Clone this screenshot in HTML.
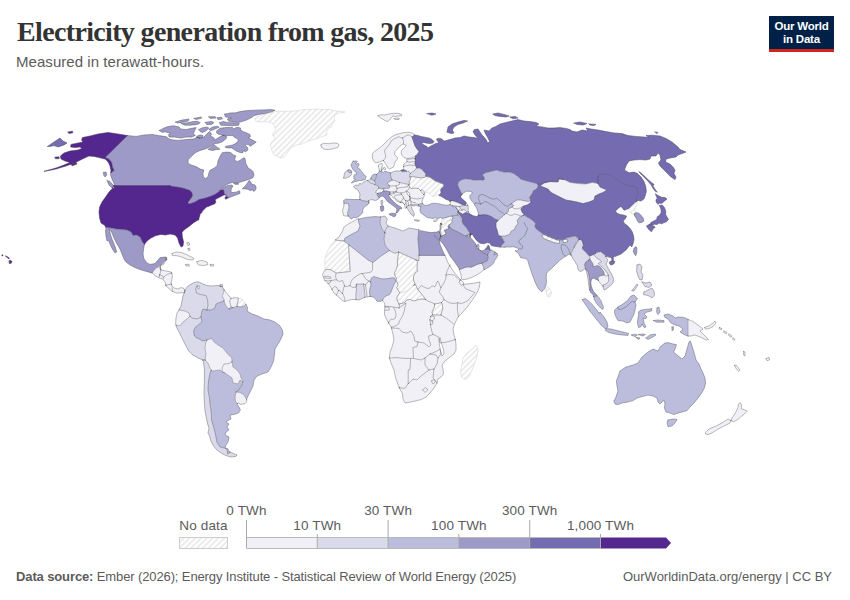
<!DOCTYPE html>
<html><head><meta charset="utf-8">
<style>
html,body{margin:0;padding:0;background:#fff;}
body{width:850px;height:600px;overflow:hidden;position:relative;font-family:"Liberation Sans",sans-serif;}
#title{position:absolute;left:17px;top:15.5px;font-family:"Liberation Serif",serif;font-weight:bold;font-size:28px;line-height:32px;color:#333;white-space:nowrap;letter-spacing:-0.65px;}
#sub{position:absolute;left:16px;top:53px;font-size:15px;letter-spacing:0.05px;line-height:18px;color:#5b5b5b;white-space:nowrap;}
#logo{position:absolute;left:769px;top:16px;width:65px;height:33px;background:#002147;border-bottom:3px solid #ce261e;color:#fff;text-align:center;font-weight:bold;font-size:11.5px;line-height:11.5px;letter-spacing:-0.22px;}
#logo span{display:block;}
#src{position:absolute;left:16px;top:569px;font-size:13px;letter-spacing:-0.12px;line-height:16px;color:#5b5b5b;white-space:nowrap;}
#lic{position:absolute;right:18px;top:569px;font-size:13px;line-height:16px;color:#5b5b5b;white-space:nowrap;}
svg{position:absolute;left:0;top:0;}
.lg{font-family:"Liberation Sans",sans-serif;font-size:13.5px;letter-spacing:0.15px;fill:#5b5b5b;text-anchor:middle;}
</style></head>
<body>
<div id="title">Electricity generation from gas, 2025</div>
<div id="sub">Measured in terawatt-hours.</div>
<div id="logo"><span style="margin-top:5px">Our World</span><span style="margin-top:1px">in Data</span></div>
<svg width="850" height="600" viewBox="0 0 850 600">
<defs>
<pattern id="hatch" patternUnits="userSpaceOnUse" width="4.1" height="4.1" patternTransform="rotate(45)"><rect width="4.1" height="4.1" fill="#fff"/><line x1="2" y1="-1" x2="2" y2="6" stroke="#e5e5e5" stroke-width="1.45"/></pattern>
</defs>
<!--MAP-->
<g stroke-linejoin="round" stroke-linecap="round" fill-rule="evenodd">
<path fill="#9e9ac8" stroke="#9e9ac8" stroke-width="0.25" d="M232,196.5L236.5,194.8L240,193.5L239.5,190.8L236,192.2L232.5,192.5L230.7,191.2L231.5,188.5L233,186L231.5,185L228,185.5L224.5,187L221.5,189L219.5,190.5L218.8,190.3L220,189.2L223,187L226,185L229,183.5L232,182.5L235,182.5L239,182.5L243,181.2L247,180L250,179L253,177.5L254,175L253,171.5L250,169L248.3,168.3L245.8,163.3L245,158.3L243.3,157.9L240,160.4L236.7,161.7L234.6,159.2L235.8,155.8L233.3,155L230.8,152.5L226.7,152.1L222.3,152.7L220.2,156L218,160.9L217.3,165.2L214.5,168L210.3,170.1L209.1,172.3L208.1,176.5L205.7,178.6L203.5,177.2L202.9,173.7L203.9,170.1L200.3,169.1L196.1,166.6L189.7,164.5L187.9,162.3L188.3,159.5L191.8,156L195,152.9L200,150.4L205.8,148.8L210,146.7L212.9,145L215,143.5L218.3,143.2L221.7,142.1L224.2,140.4L226.7,137.9L226.2,136.2L223.3,135.4L220,136.7L216.7,138.8L214,140.4L214.3,138.5L212.9,137.1L210.2,136.2L211.7,134.6L210.4,132.5L209.5,131.5L206.7,134L203.9,137.1L200.3,138.3L197.5,137.3L193.3,139.1L186,139.6L178,140.4L170,139.6L166,136.6L158,135.6L152,134.4L144,135L136,136.4L127.4,135.6L105,157.6L109,159.2L111.6,162.4L112.4,167L114,170.4L110.8,172.6L111,170.4L110.6,175L112.4,180L115,185.4L113.6,185.6L170,185.6L172,186.4L178,187.2L184,188.4L188,190L189,190L191.5,192L192.5,195L191.5,197.5L189.5,200L187.8,202.5L188.5,204L191,203.5L194,202.5L197,201L199,199.5L203,198.8L206.5,197.8L210.5,196.5L215,194.5L218.5,192L221,190L223.5,190L224.2,193.5L225.5,195L224.8,194.7L227,195.5L226.5,196.1L228.2,197.9L228,198ZM167,259L166.4,257.8L165.6,260L166.3,260Z"/>
<path fill="#54278f" stroke="#54278f" stroke-width="0.25" d="M114,170.4L112.4,167L111.6,162.4L109,159.2L105,157.6L127.4,135.6L118,134L108,132.4L98,134L90,136L82.4,137.6L81.6,140L83,142L78,143L71,144.4L70.6,147L75,147.6L80,147L82,148.4L78,150L70,151L64,153L60.4,156L61,159L65,161L70,162.4L64,165L56,168L44,171.4L56,169L66,166L75.6,162.4L82.4,159L89,156L94,156.4L99,157.6L105.6,159.2L108.4,162.4L110,166L111,170.4L110.8,172.6Z"/>
<path fill="#54278f" stroke="#54278f" stroke-width="0.25" d="M223.5,190L221,190L218.5,192L215,194.5L210.5,196.5L206.5,197.8L203,198.8L199,199.5L197,201L194,202.5L191,203.5L188.5,204L187.8,202.5L189.5,200L191.5,197.5L192.5,195L191.5,192L189,190L188,190L184,188.4L178,187.2L172,186.4L170,185.6L113.6,185.6L112.4,188.4L109,192L105.6,197L102,202L99.6,207L99,212L99.6,218L101,223L105,225.6L105.5,226.9L107,227.6L111,228L116,229L122,229.6L127,230L131,232L133,235.6L136.4,235L140,237L142.4,242L144.4,244.4L147,241L151,238L156,235.6L161,234.4L165.6,235L170,234L175,235L177.6,238L179,243L181,247L183,246L183.6,242L182.4,237L182,232.4L184,230L189,226.4L194,222.4L198,220L198.8,220L199,218L199.8,216L200,214L201.5,213L202.5,211L204.5,209L206.5,207L209,206.2L211.5,205L214.5,204L216,202L215,200L217,198.5L220,197L223.5,195.2L224.8,194.7L225.5,195L224.2,193.5ZM225,197.8L225.5,199.2L228,198L228.2,197.9L226.5,196.1Z"/>
<path fill="#9e9ac8" stroke="#9e9ac8" stroke-width="0.25" d="M106,228L105.6,231L106,236L107,241L108.4,240L110,244L112.4,249L115,253L116.6,252L115.6,248L113.6,243L111.6,238L110,233L109.4,229.2L110.4,230L112,233L114,238L117,244L120,249L122,254L124,259L126,262L130,265L135,267.6L140,269.6L145,271L150,272.4L152.1,273L152.4,272.4L154,270.4L156,268L158.4,267L160,265.4L162.4,264L165.6,260L166.4,257.8L166,257L160,257.6L158,260L155,263.6L150,264.4L147,263L144,259L143,254L143.6,249L144.4,244.4L142.4,242L140,237L136.4,235L133,235.6L131,232L127,230L122,229.6L116,229L111,228L107,227.6L105.5,226.9Z"/>
<path fill="#f2f0f7" stroke="#f2f0f7" stroke-width="0.25" d="M153,273.2L155,275.8L159,277.8L163,279.2L165,282.2L166,285.8L169,288.6L172,291.2L175,292.6L178,293.2L181,292.6L183,292.8L184.4,292.6L185,291L184,288.4L181,287.6L178,289L174.4,288L172,286.4L171,283L172,279L172.4,275L171,272L166,271L161,270L160,268L161,265L163,265L165,262L166.3,260L165.6,260L162.4,264L160,265.4L158.4,267L156,268L154,270.4L152.4,272.4L152.1,273Z"/>
<path fill="#dadaeb" stroke="#dadaeb" stroke-width="0.25" d="M222,286.4L217,285.4L212,286L207,285.6L202,283.6L199.6,282.4L198,281.6L193,283L188,286L185,290L184.4,292.4L183,296L182,301L181,306L179,310L185,311L189,313L190,316L187,319L183,322L181,325L178,326L176,325L176.4,327L179,332L182,338L185,344L188,350L192,354.4L198,358L203,360L204,366L204.4,370L204.4,382L204,392L204.4,402L205,411L206.4,418L207.6,424L209,428L208,433L209.6,436L211,441L213.6,446L217,450L221,453L226,455.6L231,457L236,456.4L237,455L232,453L230.1,452.1L230,452.4L227.6,454L227,449L224,448L220,447L217,442.4L215.6,435L213.6,427L211.6,420L211.2,412L210,404L209.2,396L208,390L208.4,382L209.6,375L211,370L212.4,371L211.6,370.5L210,368L208,363L205,360L206,354L205,348L205.6,343L207,340L202,341L201,339.6L197,338L194.4,336L193.6,331L195.6,327L199,324.4L202,322L201,317L201.6,312L203,309L207,310L211,310L215,308L216,304L220,302.4L224,301L224,299L222,296L223.6,293L224,289.6ZM229,309L233,307.6L231,307Z"/>
<path fill="#bcbddc" stroke="#bcbddc" stroke-width="0.25" d="M244,306L241,307L237,306.4L233,307.6L229,309L227,307L225,304L224,301L220,302.4L216,304L215,308L211,310L207,310L203,309L201.6,312L201,317L202,322L199,324.4L195.6,327L193.6,331L194.4,336L197,338L201,339.6L202,341L207,340L211.6,338.4L214,342L218,345L223,348L226,352L229,355.6L231.6,357L232,362L233,367L237,370L240,374L241,378L243,381L242.4,384L240,388L237.6,391L236,392L240,392.4L244,395L246.6,399.3L247,398L250,392L253,386L254,380L257,376L262,374L268,372L271,367L273.6,361L274.4,355L275,349L278,344L281,339L283,334L282.4,330L279.6,325.6L275,322L270,320L264,319L258,316L252,314L247,311L247.6,308L246,304Z"/>
<path fill="#bcbddc" stroke="#bcbddc" stroke-width="0.25" d="M235,397L236,392L237.6,391L240,388L242.4,384L242.8,381.9L240,380L238,384L233,383L232,378L226,373.6L222.4,372L220,370L212.4,371L211,370L209.6,375L208.4,382L208,390L209.2,396L210,404L211.2,412L211.6,420L213.6,427L215.6,435L217,442.4L220,447L224,448L227,449L227.6,454L230,452.4L230.1,452.1L229,451.6L228,449L225,447.6L226,445L228,442L229,437L225,435L226,432L229,430L227,427L229,424L226,422L228,420.4L231,419L230,415L234,414.4L238.4,413L240.4,410L239,407L237,404L237.5,403.5L235.6,402Z"/>
<path fill="#f2f0f7" stroke="#f2f0f7" stroke-width="0.25" d="M229,363.6L224,364L222,368L222.4,371.6L224.2,372.8L226,373.6L232,378L233,383L238,384L240,380L242.8,381.9L242.4,384L243,381L241,378L240,374L237,370L233,367L232,362L232,361.6Z"/>
<path fill="#f2f0f7" stroke="#f2f0f7" stroke-width="0.25" d="M205,348L206,354L205,360L208,363L210,368L211.6,370.5L212.4,371L220,370L222.4,372L226,373.6L224.2,372.8L222.4,371.6L222,368L224,364L229,363.6L232,361.6L232,362L231.6,357L229,355.6L226,352L223,348L218,345L214,342L211.6,338.4L207,340L205.6,343Z"/>
<path fill="#f2f0f7" stroke="#f2f0f7" stroke-width="0.25" d="M238,403L241,404.4L245,403.6L247,401L246.4,400L247,398L246.6,399.3L244,395L240,392.4L236,392L235,397L235.6,402L237.5,403.5Z"/>
<path fill="#f2f0f7" stroke="#f2f0f7" stroke-width="0.25" d="M181,325L183,322L187,319L190,316L189,313L185,311L179,310L177,313L176,318L175.6,323L176,325L178,326Z"/>
<path fill="#f2f0f7" stroke="#f2f0f7" stroke-width="0.25" d="M222,296L224,299L224,301L225,304L227,307L229,309L231,307L230.4,304L229.6,301L231,298.4L229,296L226,292.4L224,289.6L223.6,293Z"/>
<path fill="#f2f0f7" stroke="#f2f0f7" stroke-width="0.25" d="M230.4,304L231,307L233,307.6L237,306.4L237,305L238,301L238.4,298L235,297.6L231,298.4L229.6,301Z"/>
<path fill="url(#hatch)" stroke="#cfcfcf" stroke-width="0.5" d="M237,305L237,306.4L241,307L244,306L246,304L244,301.6L242,299L238.4,298L238,301Z"/>
<path fill="#f2f0f7" stroke="#f2f0f7" stroke-width="0.25" d="M357,219L354,221L348,224L344,227L342,232L339,237L335,240L344,241L345,238L352,234L358,231L360,226L358.6,222L358.4,219ZM384.5,303L385,307L384.5,311L384.6,315L387,320L390,325L391.4,328L393,334L394,340L392,347L390,352L389.4,358L391,363L394,370L395.4,377L397.4,383L400,389L402.6,394L403,399L405,403L409,402.4L415,401L421,399.6L426,397L430,393L434,388L437,383L438,379L441,377L443.4,374L443,369L442,365L445,361L450,357L454,354L456,350L456,345L455.4,340L454,335L453,329L455,323L458,317L463,312L468,306L473,299L477,293L479.4,287L480,282L475,283L467,284L463,284.6L464,283L460.8,279.9L459.4,278.5L455.3,273.8L451.2,267.9L447.6,262.1L445.3,256.2L444.9,255.4L419,255.4L419,260.6L416,260L417.4,261L417,269L417.8,271L415.5,272.5L413.5,276L413.5,280L415,283.5L413.5,286L415,284L416.5,286.5L418,290L420,292L422,294.5L424,297L425.5,299.5L421,299L417,300L414,301L410,299.5L406.5,300L405,302.5L401.5,303.5L399,304L397.5,301L396.8,298L398,295L400,293L399,291.5L396.5,287.5L398,286L397.5,283L396,280L396.5,278L395,276L394.5,272.5L396.5,269L397.5,265L397.4,261L398.6,252L395,253.4L389.4,250.6L381,256L373,262.6L368,260L358,252L349,245L348.6,247L349.4,259L350.2,271.5L336,273L333,271L330,269.5L327,269.3L325,270.2L324.6,270.6L323.5,272.5L322.5,274.5L324,279L325,280.5L328,283.5L330,286L332,289.5L334,293L336.5,295L340.5,299L343.5,301.2L345,301.5L348,300.5L352,299.5L355.5,299.5L355.9,299.6L355.8,294L356.5,290L356.2,287L356.5,284.2L363.5,284L364,287L364.5,291L365,295L364.8,297L364.8,297.3L365,297.2L370,296.5L369.5,292L370,288L371,285L370.5,282L371,278.5L373.5,276.5L377,277.5L380,278.5L384,279L388,278.5L392,277.8L394.5,278L396,281L394,284.5L392.5,288L391,292L389.5,294.5L386,296L383.5,298L382.5,300.5ZM432,312L433.5,309L434.5,306.5L434.5,304L437.5,303.5L441.5,302.5L442.5,305L442.8,309L441.5,312L441,315L436,315L432.5,314.8Z"/>
<path fill="#bcbddc" stroke="#bcbddc" stroke-width="0.25" d="M360,226L358,231L352,234L345,238L344,241L349,245L358,252L368,260L373,262.6L381,256L389.4,250.6L385,245L384,239L385,233L382,229L380,223L380.6,217L375,216.6L366,217.4L359,219L358.4,219L358.6,222Z"/>
<path fill="#dadaeb" stroke="#dadaeb" stroke-width="0.25" d="M382,229L384.6,232.5L385.4,230L388,226L386,223L387.4,219L385,216L380.6,217L380,223Z"/>
<path fill="#dadaeb" stroke="#dadaeb" stroke-width="0.25" d="M385,245L389.4,250.6L395,253.4L398.6,252L416,260L419,260.6L419,251L418,239L418.6,232L418.7,229.9L417,229.4L409,228L403,231L395,228L388,226L385.4,230L384.8,232.1L385,233L384,239Z"/>
<path fill="#9e9ac8" stroke="#9e9ac8" stroke-width="0.25" d="M419,251L419,255.4L444.9,255.4L442.4,250.3L440,244.4L439.3,240.3L440.6,235.9L439,231.2L437,232L431,232.6L424,231.4L418.6,229.9L418.7,229.9L418.6,232L418,239Z"/>
<path fill="#bcbddc" stroke="#bcbddc" stroke-width="0.25" d="M386,296L389.5,294.5L391,292L392.5,288L394,284.5L396,281L394.5,278L392,277.8L388,278.5L384,279L380,278.5L377,277.5L373.5,276.5L371,278.5L370.5,282L371,285L370,288L369.5,292L370,296.5L373.5,297L375.5,299L377,301.2L380,301.5L382.5,300.5L383.5,298Z"/>
<path fill="#dadaeb" stroke="#dadaeb" stroke-width="0.25" d="M365,295L364.5,291L364,287L363.5,284L356.5,284.2L356.2,287L356.5,290L355.8,294L355.9,299.6L359,300L362,298.5L364.8,297.3L364.8,297Z"/>
<path fill="url(#hatch)" stroke="#cfcfcf" stroke-width="0.5" d="M327,269.3L330,269.5L333,271L336,273L350.2,271.5L349.4,259L348.6,247L349,245L344,241L335,240L331,245L328,250L326,255L324.6,260L325,265L325,270L324.6,270.6L325,270.2Z"/>
<path fill="url(#hatch)" stroke="#cfcfcf" stroke-width="0.5" d="M397.5,265L396.5,269L394.5,272.5L395,276L396.5,278L396,280L397.5,283L398,286L396.5,287.5L399,291.5L400,293L404,292L408,290.5L411,288.5L413.5,286L415,283.5L413.5,280L413.5,276L415.5,272.5L417.8,271L417,269L417.4,261L416,260L398.6,252L397.4,261Z"/>
<path fill="url(#hatch)" stroke="#cfcfcf" stroke-width="0.5" d="M396.8,298L397.5,301L399,304L401.5,303.5L405,302.5L406.5,300L410,299.5L414,301L417,300L421,299L425.5,299.5L424,297L422,294.5L420,292L418,290L416.5,286.5L415,284L413.5,286L411,288.5L408,290.5L404,292L400,293L398,295Z"/>
<path fill="url(#hatch)" stroke="#cfcfcf" stroke-width="0.5" d="M433.5,309L432,312L432.5,314.8L436,315L441,315L441.5,312L442.8,309L442.5,305L441.5,302.5L437.5,303.5L434.5,304L434.5,306.5Z"/>
<path fill="#f2f0f7" stroke="#f2f0f7" stroke-width="0.25" d="M400,133.5L396,134.5L392,136.5L388.5,139.5L385,143L381.5,146.5L378,149L374.5,151.5L372.5,153.5L372.2,156L372.8,159L374,161.5L376,162.8L379,162.2L381.5,161L383.5,160.5L384,161.5L385,163L386.5,165L388,168L389.5,169L391.5,168L393.5,167L394.5,164.5L395,162L397,159.5L397.5,157.5L395.5,156L394.5,154L395,151.5L397,149.5L399,147L401,145L402.8,144.2L403.5,144L404.5,144.5L406.2,145.2L405.5,146.5L403.5,148.5L401.5,150.5L401.2,153L402,155.5L404,157.5L406.5,158.5L410,158.2L413,157.5L415.5,156L417.5,154L419,151.5L417,149L415,146L414,143L413,140L412,137L414.5,135L414,134L411.5,132.8L408,132.2L404,132.5ZM403.5,164.5L403.5,166.5L403.5,168.5L403,169.8L405,170L406.5,171.2L409,171.5L410,172.8L410.5,173.5L412,172.2L414,171L415,169.5L417,168L416,167L415.5,165L414.8,163.5L415.5,161.5L415,159.5L415,158.5L410,159L406.5,159.5L407,161.5L406.5,162L405,163.5ZM378.5,167L379,169L379.5,171L381,171.5L381.9,169.2L381.5,167.5L382.5,165.5L382,163.5L380,164L378.5,165ZM400.5,202.5L403,203L404.5,204.5L404.8,206.5L405.5,208.5L406.5,207.5L406.6,207.6L406.5,207L408.5,205.5L411,205L414,204.5L416.5,204L418.5,204.5L420.5,203.8L422.5,203.2L422,201.8L422.5,199.9L423.5,197.5L424.4,195.2L424.5,194.8L423.5,194.5L424.5,194L424,191.5L422,189.5L420.5,190.5L418.5,188.5L415,188L411.5,188.5L410,187.5L409,186L409,184.5L406.5,184L404,183.5L401.5,182.8L399.5,182.5L397,181.5L394.5,180.5L392,180L390.5,181L388.5,182L387.5,183.5L389,185.5L389.8,187.5L388,188.5L386,188.2L383.5,188.9L384,190L383.2,191.2L385.5,190.8L388,191.2L390,192L389.8,193.8L389.8,194.6L390,195L391.5,195.5L393,197.5L395,199.5L397.5,201.5ZM457,209L458.5,211L458.3,211.5L459.8,212.5L462.7,214.2L465.5,212.5L468.3,213.2L471.5,215.1L469,213.2L468.6,212L467,212L465,210L463.5,209.5L462,210L460.5,208.5L459,206.5L461.5,206.2L463,205L461,204L458,202.5L455,201.5L452,200.5L450.1,200.8L450.5,203.5L449.8,204.6L449.8,204.7L452.5,205.8L455,207ZM343.5,215.5L345.5,216L348,216L348,215.5L347.5,213L348.5,210L349,207L348.5,204L345,203L344,203.5L344,205L343.5,207.5L342.5,210.5L343,213ZM458.4,213.2L458,212L457.5,213L458,215L462.4,220L462.7,218.9L460.5,216ZM441.6,224.6L441.8,224L441.2,224L441.2,224.7ZM449.7,227.2L449.5,227L449,225L448.4,225.4L448.1,226.1L448.4,226.9ZM439.4,232.4L440.6,235.9L440.3,237L441.2,236.2L441.2,236L440.6,235.9ZM462,194.1L460.5,196.2L462,194.2ZM467.6,204.7L465.5,201.9L466.2,203.7L465,205.5L467.8,205.5ZM530.7,202.3L530.7,200L528.5,201.5L525,200.9L520.8,200L517.2,199.8L514.4,201.5L511.5,203.7L513.7,205.4L512.3,207.1L510.1,208L508,209L508.7,211.1L506.6,213.2L504.5,214.6L502.3,216.8L499.5,218.9L498.1,220.3L496,223.1L496,226.7L497.4,230.9L498.4,235.2L500.9,236.3L505.2,235.9L509.4,234.5L511.5,230.9L514.4,229.5L515.8,226L517.9,223.8L517.2,220.3L519.3,217.5L523.6,215.3L524.4,215L524.1,214.8L522,212L520.8,209L523.6,206.1L527.8,204.7ZM470.6,234.9L471.2,234.7L470.6,233.9ZM579.8,239.3L581.4,239.9L580.8,238.9ZM579.4,239.4L578.7,239.6L576.5,241.8L575.1,244.6L574.1,247.2ZM582.5,247.5L582.6,247.7L583.6,245.3L583,243.1L583.3,245ZM608.8,280L608.3,275.4L607.5,273.3L605,270L602.5,267.5L600,265L598.3,263.3L600,262.5L601.7,261.7L600,260L597.1,258.3L595.4,256.7L593.8,255L595.7,253.2L593.5,254.5L590,255.9L588.1,254.5L589.2,255.8L590,258.3L588.3,260.4L590,258.8L590.4,260L591.7,261.7L592.9,263.8L593.3,266.7L595.4,266.2L597.5,265.4L600,266.7L602.5,270L603.8,272.1L604.2,275L601.7,275.4L599.2,276.2L597.9,277.9L598.4,280.6L600,283L603,286.6L603,285L606,284L608.6,281.4ZM476.5,275L480.6,272.6L484.1,269.7L483.5,266.8L481.8,263.2L477.1,264.4L473.5,266.2L470.6,267.4L468.8,266.8L465.3,267.4L461.2,269.1L459.3,269.3L460.8,273.8L461.5,278.5L462.9,279.7L467.1,279.1L471.8,277.4Z"/>
<path fill="#756bb1" stroke="#756bb1" stroke-width="0.25" d="M412,137L413,140L414,143L415,146L417,149L419,151.5L417.5,154L415.5,156L415,158L415,158.5L415,159.5L415.5,161.5L414.8,163.5L415.5,165L416,167L417,168L419.5,168.2L422,169.5L424,172L426,174L425,175L426.2,176.5L429,177L431,178L435,181L439,182.5L443,184L442.8,183.4L443.5,184.8L443.6,186.7L443.6,186.7L442.5,187.6L441.4,188.6L440.6,190L440.9,191.4L441.1,193.1L439.9,194L439.2,194.9L438.9,194.8L439.1,195.7L440.6,196.1L442.3,197.1L444.2,198.2L446.1,199.4L447.9,200.1L450.1,200.8L452,200.5L455,201.5L458,202.5L461,204L463,205L465,205.5L466.2,203.7L465.5,201.9L463.4,199.8L461.3,198.3L460.5,196.2L462,194.1L459.8,189.8L457.7,184.9L458.4,182L461.3,179.9L465.5,178.8L469.8,179.2L474,180.2L479.7,179.9L483.9,180.2L484.6,177.8L482.5,175L485.3,172.8L491,171.4L496.7,170L499.5,171.1L503.8,172.1L509.4,172.1L513.7,173.5L517.9,176.4L520.8,179.2L525,180.6L530.7,182L534.9,183L538,184.2L539.9,184.2L544.8,182L550.5,181.3L556.2,180.6L558.3,177.8L564,179.6L570,182.4L578,183.6L586,184L592.4,182.4L598,183.6L598,176L602,173.6L608,174.4L613,177L619,181L624,184L629,186.4L634,186L637,188L638,193L637,196L635.6,199L636.7,201.3L638.2,200.4L641,201.1L643.9,199L645.3,195.5L646.3,191.2L645.7,186.3L643.9,181.3L641,177L637.5,173.5L634,172.1L629,172.8L624.4,170L626.4,165L629,161L634,160L640,159.6L646,160L650,159L651,156L656,156L658,153L660,155L661,160L658.4,163L660,166L663,169L667,173L671,177L675,179.6L676,177L674,173.6L675,170L673,167L670,164L665.6,162L666,159L670,158L676,157L678,155L682,153.6L686,152L680,149.6L678,147L672,142L666,138.4L660,136L652,135.2L646,135.6L649,137.6L644,137L636,136.4L628,135.6L622,133.6L614,133L606,131.6L598,130L591,129L586,128L588,131L582,130L577,132L572,131L570,129.6L566,128.4L560,127.6L554,128L548,128L542,127L536,126L539,124L536,122.4L530,121.6L524,121L518,119.6L512,121L506,122.4L500,124L496,126.4L492,128L489,131L486,130.4L484,130L485.6,134L488,138L489.6,141.6L487.6,143L486.4,140L484,137L482,135L480,132L478,129L474.4,129.6L473,131.6L475,135L478,138.4L474,137.6L469,137L464,136L460,137.6L455,138L450,139.5L448,140L445,141L443,140.5L442,139L439,138.2L436.5,139L437.5,141L439,143L435.5,143.5L433,145L430,146.5L428,148L427,146.5L425,145.5L423,144.5L421.5,142.8L424,142.5L427,143.2L430,143.5L433,143L434,141.5L432,139.5L429,138L425,137.2L421,136.5L418,135.5L414.5,135Z"/>
<path fill="#756bb1" stroke="#756bb1" stroke-width="0.25" d="M401,170.8L401.5,171.5L404,171.8L406.5,171.2L405,170L403,169.8L401.5,170.2Z"/>
<path fill="#f2f0f7" stroke="#f2f0f7" stroke-width="0.25" d="M548,189L551,192.4L556,195L561,197.6L566,200L572,201L577,202L583,203.6L589,202L594,200L595,196L599,194L603,192.4L607,190L600,187L598,183.6L592.4,182.4L586,184L578,183.6L570,182.4L564,179.6L559,179L558,182L550,181.6L544,183L540,186L543,187Z"/>
<path fill="url(#hatch)" stroke="#cfcfcf" stroke-width="0.5" d="M629,208.2L628.7,210.3L630.4,211.8L631.6,213.9L634,213.9L636.1,212.5L634.7,210.3L635.4,207.5L636.8,205.4L637.5,202.5L636.1,201.6L632.5,204.7Z"/>
<path fill="#9e9ac8" stroke="#9e9ac8" stroke-width="0.25" d="M634.7,215.7L636.1,218.1L637.5,221L638.9,222.8L641.8,222.4L643.9,221L643.2,218.1L641,215.3L638.9,213.2L636.1,212.5L634,213.9Z"/>
<path fill="#756bb1" stroke="#756bb1" stroke-width="0.25" d="M536.3,189.1L533.5,190.5L532.1,193.4L530.7,195.5L529.3,197.6L530.7,200L530.7,202.3L527.8,204.7L523.6,206.1L520.8,209L522,212L524.1,214.8L527,217L529.8,218.4L532.6,220.5L535.5,223.3L534.8,226.2L536.2,229L539,231.1L541.8,233.3L545.4,234.7L548.9,236.8L553.2,238.2L557.4,239.6L561.7,240.1L564.5,238.9L568,237.5L571.6,236.8L575.1,236.1L577.3,237.5L578.7,239.6L580.8,238.9L582.6,241.8L583.6,245.3L582.2,248.8L584.3,251L587.2,253.8L590,255.9L593.5,254.5L597.1,252.4L600.6,251.7L604.2,254.5L605.9,256.3L610,257.4L610.7,257.3L611.5,258.3L612.1,260.5L613.2,260.5L613.5,258.8L612.9,256.9L615,256.6L621,254L626,250L630,245L631.8,246.9L633.3,242.9L634,239L633.5,235.6L632.3,231.9L630.1,228.5L627.3,225.6L624.5,223.4L623.1,221L625.5,218.6L626.5,216L623.3,214.9L620.2,214.6L617,213.2L615.5,211L618.4,208.2L620.8,206.4L622.6,208.2L624,210.3L626.9,209.2L629,208.2L632.5,204.7L636.1,201.6L636.7,201.3L635.6,199L637,196L638,193L637,188L634,186L629,186.4L624,184L619,181L613,177L608,174.4L602,173.6L598,176L598,183.6L600,187L607,190L603,192.4L599,194L595,196L594,200L589,202L583,203.6L577,202L572,201L566,200L561,197.6L556,195L551,192.4L548,189L543,187L540,186L544,183L550,181.6L558,182L559,179L564,179.6L558.3,177.8L556.2,180.6L550.5,181.3L544.8,182L539.9,184.2L538,184.2L537.8,187Z"/>
<path fill="#bcbddc" stroke="#bcbddc" stroke-width="0.25" d="M483.9,214.6L488.2,215.3L491.7,216.8L494.5,218.9L498.1,220.3L499.5,218.9L502.3,216.8L504.5,214.6L506.6,213.2L508.7,211.1L508,209L510.1,208L512.3,207.1L513.7,205.4L511.5,203.7L514.4,201.5L517.2,199.8L520.8,200L525,200.9L528.5,201.5L530.7,200L529.3,197.6L530.7,195.5L532.1,193.4L533.5,190.5L536.3,189.1L537.8,187L538,184.2L534.9,183L530.7,182L525,180.6L520.8,179.2L517.9,176.4L513.7,173.5L509.4,172.1L503.8,172.1L499.5,171.1L496.7,170L491,171.4L485.3,172.8L482.5,175L484.6,177.8L483.9,180.2L479.7,179.9L474,180.2L469.8,179.2L465.5,178.8L461.3,179.9L458.4,182L457.7,184.9L459.8,189.8L462,194.1L462,194.2L462.7,193.4L466.2,191.3L469.8,191.3L472.3,192L471.9,193.8L469.8,195.5L470,198.1L471.5,200.5L473.3,202.6L474.7,204.7L476.6,208L478,211.8L478.5,215.1L480.4,215.1Z"/>
<path fill="#756bb1" stroke="#756bb1" stroke-width="0.25" d="M459.8,212.5L457.7,211.1L458.4,213.2L460.5,216L462.7,218.9L462,221.7L463.4,224.5L466.2,227.4L468.3,230.9L470.5,233.8L471.2,234.7L472.4,234.4L474.7,237.9L477.1,240.9L480,243.2L483.5,243.8L487.6,242.6L490,243.2L491.2,245.6L494.1,246.2L498.2,246.8L500.2,247L500.9,246.5L502.3,244.4L504.5,242.3L503,239.4L500.9,236.3L498.4,235.2L497.4,230.9L496,226.7L496,223.1L498.1,220.3L494.5,218.9L491.7,216.8L488.2,215.3L483.9,214.6L480.4,215.1L478.5,215.1L476.8,216.5L474,216L471.5,215.1L468.3,213.2L465.5,212.5L462.7,214.2ZM486.5,247.9L485.1,249.3L489.8,249.3L489.4,246.8L488.2,245Z"/>
<path fill="url(#hatch)" stroke="#cfcfcf" stroke-width="0.5" d="M547.5,240.1L551.8,241.8L556,243.2L559.5,243.2L559.5,240.3L556,239.6L551.8,237.8L551,237.5L548.9,236.8L548.2,236.4L547.5,236.1L544,234.4L541.6,235.4L543.3,238.2Z"/>
<path fill="url(#hatch)" stroke="#cfcfcf" stroke-width="0.5" d="M567.3,242L568,240.1L565.2,239.2L562.4,240.1L563.8,242.5Z"/>
<path fill="#bcbddc" stroke="#bcbddc" stroke-width="0.25" d="M575.1,244.6L576.5,241.8L578.7,239.6L577.3,237.5L575.1,236.1L571.6,236.8L568,237.5L564.5,238.9L561.7,240.1L557.4,239.6L553.2,238.2L548.9,236.8L545.4,234.7L541.8,233.3L539,231.1L536.2,229L534.8,226.2L535.5,223.3L532.6,220.5L529.8,218.4L527,217L524.4,215L523.6,215.3L519.3,217.5L517.2,220.3L517.9,223.8L515.8,226L514.4,229.5L511.5,230.9L509.4,234.5L505.2,235.9L500.9,236.3L503,239.4L504.5,242.3L502.3,244.4L500.9,246.5L500.2,247L498.2,246.8L500.6,247L505.3,247.4L505,246.7L509.3,247.1L513.5,246.7L519.2,248.8L517,251L515,250.6L518.5,253.4L520.7,257.7L525.6,258.4L527.8,260.5L529.2,265.5L531.3,271.8L533.4,277.5L535.5,283.2L537.7,287.4L539.8,290.3L541.9,291.7L544,289.5L545.9,286L546.5,281.8L546.2,277.5L546.5,273.3L549,270.4L552.5,267.6L556.1,264L559.6,260.5L563.2,257.7L565.3,256.3L568.1,254.8L570.3,254.1L571.3,255.7L570.9,253.1L572.3,251L573.7,248.1ZM551,237.5L551.8,237.8L556,239.6L559.5,240.3L559.5,243.2L556,243.2L551.8,241.8L547.5,240.1L543.3,238.2L541.6,235.4L544,234.4L547.5,236.1L548.2,236.4L548.9,236.8ZM563.8,242.5L562.4,240.1L565.2,239.2L568,240.1L567.3,242ZM494.9,252.1L493.8,255L496.9,253.7L496.5,253.2Z"/>
<path fill="#dadaeb" stroke="#dadaeb" stroke-width="0.25" d="M589.9,284.6L589.7,280.3L589.1,276.1L588.2,272.1L585.8,269.2L585,266.7L584.6,264.2L585.8,262.1L588.3,260.4L590,258.3L589.2,255.8L588.1,254.5L587.2,253.8L584.3,251L582.2,248.8L582.6,247.7L582.5,247.5L583.3,245L583,243.1L582.8,242.2L582.2,241.1L581.4,239.9L579.8,239.3L579.4,239.4L574.1,247.2L573.7,248.1L572.3,251L570.9,253.1L571.3,255.7L571.7,256.3L573.1,259.1L575.2,261.9L577.3,265.5L578,269.7L580.2,271.6L583,270.4L585.1,268.3L586.5,271.8L587.5,276.1L588.2,280.3L588.7,284.6L589.4,289.5L589.5,289.8L590.1,289.5Z"/>
<path fill="#9e9ac8" stroke="#9e9ac8" stroke-width="0.25" d="M599.2,276.2L601.7,275.4L604.2,275L603.8,272.1L602.5,270L600,266.7L597.5,265.4L595.4,266.2L593.3,266.7L592.9,263.8L591.7,261.7L590.4,260L590,258.8L588.3,260.4L585.8,262.1L584.6,264.2L585,266.7L585.8,269.2L588.2,272.1L589.1,276.1L589.7,280.3L589.9,284.6L590.1,289.5L589.5,289.8L590.8,292.4L592.9,294.5L593.6,296.6L595,296.6L597.2,295.9L595.8,293.8L593.6,291.7L592.2,288.8L591.2,286L590.8,282.5L591.5,278.9L593.6,278.2L594,278L596,279.4L598,280L598.4,280.6L597.9,277.9Z"/>
<path fill="#dadaeb" stroke="#dadaeb" stroke-width="0.25" d="M597.1,258.3L600,260L601.7,261.7L600,262.5L598.3,263.3L600,265L602.5,267.5L605,270L607.5,273.3L608.3,275.4L608.8,280L608.6,281.4L606,284L603,285L603,286.6L604,290L606,289L610,286L613,283L613.4,278L611,273L608,268L606,264L608,260L605,256L610,257.4L605.9,256.3L604.2,254.5L600.6,251.7L597.1,252.4L595.7,253.2L593.8,255L595.4,256.7Z"/>
<path fill="#bcbddc" stroke="#bcbddc" stroke-width="0.25" d="M593.6,296.6L594.3,299.5L595.8,302.3L597.9,305.1L600.7,308L602.8,309.4L603.5,307.3L602.1,303.7L600.7,300.2L598.6,297.3L597.2,295.9L595,296.6Z"/>
<path fill="#bcbddc" stroke="#bcbddc" stroke-width="0.25" d="M467.1,235L467.4,236.8L468.8,237.4L470,236.8L470.2,235.9L470.1,235.5L468.8,234.4Z"/>
<path fill="#bcbddc" stroke="#bcbddc" stroke-width="0.25" d="M477.3,248.9L478.7,248.9L478.6,248.5L479.1,246.2L478.5,244.2L477.3,244.4L476.8,246.5L476.6,246.1L476.5,246.8Z"/>
<path fill="#bcbddc" stroke="#bcbddc" stroke-width="0.25" d="M440,225.5L440,230L439,231.2L439.4,232.4L440.6,235.9L441,234.1L440.8,232.2L440.5,230.4L440.8,228.5L441,226.6L441.2,224.7L441.2,223.7L441.2,224L440.5,223L440.5,223.1Z"/>
<path fill="url(#hatch)" stroke="#cfcfcf" stroke-width="0.5" d="M440.8,228.5L440.5,230.4L440.8,232.2L441,234.1L440.6,235.9L441.5,236L443.8,235.1L445.9,233.6L445.7,232.7L444.3,230.1L445.7,230.1L449,228.5L448.1,226.1L448.5,225.2L451.4,223.3L452.3,221.9L451.4,220L447.6,220.9L443.8,223.8L441.2,224.7L441,226.6Z"/>
<path fill="url(#hatch)" stroke="#cfcfcf" stroke-width="0.5" d="M441.6,224.6L443.8,223.8L447.6,220.9L451.4,220L451.7,220.8L452,220L453,217.5L452,216L449.5,216.5L447,217.2L444.5,217.8L442,218.5L441.5,221.5L441.2,224L441.2,223.7L441.2,224L441.8,224Z"/>
<path fill="#bcbddc" stroke="#bcbddc" stroke-width="0.25" d="M418.5,204.5L418.8,206L420,206.5L421.2,206.2L420.5,207L420,209L420,211L421,213L423,214.5L425,216L427.5,217.5L430,218L432.5,218.5L435,217.8L438,218.5L440.5,217.5L442,218.5L444.5,217.8L447,217.2L449.5,216.5L452,216L455,215.5L458,215L457.5,213L458,212L457.7,211.1L458.3,211.5L458.5,211L457,209L455,207L452.5,205.8L449.8,204.7L449.8,204.6L449.5,205L446.5,205.2L443,204.8L440,204L436.5,203.5L433.5,203.2L431,203.8L428.5,205L425.5,205.5L423,204.5L422.5,203.2L420.5,203.8Z"/>
<path fill="#dadaeb" stroke="#dadaeb" stroke-width="0.25" d="M463,205L461.5,206.2L459,206.5L460.5,208.5L462,210L463.5,209.5L465,210L467,212L468.6,212L468.1,210.4L468.3,207.5L467.8,205.5L465,205.5Z"/>
<path fill="#bcbddc" stroke="#bcbddc" stroke-width="0.25" d="M452,220L451.7,220.8L452.3,221.9L451.4,223.3L449.4,224.6L449,225L449.5,227L452.5,229.5L456,231L460,233L464,235.5L466.5,236L467.2,235.6L467.1,235L468.8,234.4L469.2,234.7L470,234.5L470.2,233.5L468.3,230.9L466.2,227.4L463.4,224.5L462,221.7L462.4,220L458,215L455,215.5L452,216L453,217.5Z"/>
<path fill="#9e9ac8" stroke="#9e9ac8" stroke-width="0.25" d="M485.3,253.8L487.6,255L488.8,252.6L490,250.3L489.4,246.8L489.8,249.3L485.1,249.3L484.1,250.3L481.8,250.9L480,250.3L482.4,252.6Z"/>
<path fill="#bcbddc" stroke="#bcbddc" stroke-width="0.25" d="M487.6,255L488.2,257.9L487.1,260.9L481.8,263.2L483.5,266.8L484.1,269.7L485.3,269.1L488.2,267.4L491.2,265.6L493.5,263.2L494.7,260.3L496.5,257.9L498,255L496.5,253.2L494.1,251.5L491.2,249.7L490,250.3L488.8,252.6ZM496.9,253.7L493.8,255L494.9,252.1L496.5,253.2Z"/>
<path fill="#9e9ac8" stroke="#9e9ac8" stroke-width="0.25" d="M470.2,233.7L470,234.5L469.2,234.7L468.8,234.4L470.1,235.5L470.2,235.8L470,235L470.6,234.9L470.6,233.9L470.5,233.8ZM448.4,226.9L449,228.5L445.7,230.1L444.3,230.1L445.7,232.7L445.9,233.6L443.8,235.1L441.5,236L441.2,236L441.2,236.2L440.3,237L439.6,239.9L443.5,244.4L447.1,250.3L450.2,256.2L454.7,262.1L458.8,267.9L459.3,269.3L461.2,269.1L465.3,267.4L468.8,266.8L470.6,267.4L473.5,266.2L477.1,264.4L481.8,263.2L487.1,260.9L488.2,257.9L487.6,255L485.3,253.8L482.4,252.6L480,250.3L478.8,249.1L478.6,248.5L478.7,248.9L477.3,248.9L476.5,246.8L476.6,246.1L476.8,246.5L475.3,243.2L472.9,240.3L470.6,237.9L470.2,235.9L470,236.8L468.8,237.4L467.4,236.8L467.2,235.6L466.5,236L464,235.5L460,233L456,231L452.5,229.5L449.7,227.2Z"/>
<path fill="#dadaeb" stroke="#dadaeb" stroke-width="0.25" d="M409.5,175L410,177L412,176.5L415,177L418,177.5L421,178L424,177.5L426.2,176.5L425,175L426,174L424,172L422,169.5L419.5,168.2L417,168L415,169.5L414,171L412,172.2L410.5,173.5Z"/>
<path fill="url(#hatch)" stroke="#cfcfcf" stroke-width="0.5" d="M424,177.5L421,178L418,177.5L415,177L412,176.5L410,177L410.5,179.5L409,182L409.5,184L409,184.5L409,186L410,187.5L411.5,188.5L415,188L418.5,188.5L420.5,190.5L422,189.5L424,191.5L424.5,194L423.5,194.5L424.5,194.8L425.1,193.3L426.3,192.4L428.2,192.8L430.1,194.2L431.5,195.7L432.9,196.6L434.8,196.1L436.2,195.4L437.6,195.2L439,195.7L439.1,195.7L438.9,194.8L439.2,194.9L438.5,194.7L437.6,193.8L436.2,192.8L437.6,191.2L439.5,189.3L441.4,187.4L443.2,186L443.6,186.7L443.5,184.8L442.8,183.4L443,184L439,182.5L435,181L431,178L429,177L426.2,176.5Z"/>
<path fill="#dadaeb" stroke="#dadaeb" stroke-width="0.25" d="M390.5,175L391,177.5L392,180L394.5,180.5L397,181.5L399.5,182.5L401.5,182.8L404,183.5L406.5,184L409,184.5L409.5,184L409,182L410.5,179.5L410,177L409.5,175L410.5,173.5L410,172.8L409,171.5L406.5,171.2L404,171.8L401.5,171.5L401,170.8L401.5,170.2L400,171.2L397,170.8L393.5,171.5L390.8,173L390.2,173.5Z"/>
<path fill="#bcbddc" stroke="#bcbddc" stroke-width="0.25" d="M375.5,179L374.5,181L375.5,183L374.5,184.5L377,185.5L378.5,186.5L378.5,188L380.5,188.5L383,189L386,188.2L388,188.5L389.8,187.5L389,185.5L387.5,183.5L388.5,182L390.5,181L392,180L391,177.5L390.5,175L390.2,173.5L390.8,173L389.5,172.5L387.5,172L385,171.2L383.5,172.2L381.5,172L382,169.5L381.9,169.2L381,171.5L379.5,171L378,173L376.5,174.5L376.2,177Z"/>
<path fill="#bcbddc" stroke="#bcbddc" stroke-width="0.25" d="M372.5,179.8L374.5,181L375.5,179L376.2,177L376.5,174.5L375,174L372.5,175L371,178L371.5,179.5Z"/>
<path fill="#dadaeb" stroke="#dadaeb" stroke-width="0.25" d="M372.5,183.5L374.5,184.5L375.5,183L374.5,181L372.5,179.8L371.5,179.5L371,178L370,180L367.3,180.5L368.5,181.5L370.5,183Z"/>
<path fill="url(#hatch)" stroke="#cfcfcf" stroke-width="0.5" d="M379.5,193L381.5,192.5L383,191.5L384,190L383.5,188.9L383,189L380.5,188.5L379.4,188.2L378.2,189L376.5,190.5L375.5,192.5L377.5,193.5Z"/>
<path fill="#9e9ac8" stroke="#9e9ac8" stroke-width="0.25" d="M390,192L388,191.2L385.5,190.8L383.2,191.2L383,191.5L381.5,192.5L379.5,193L377.5,193.5L377,194L377.5,196L379,198L380.5,196.5L382.5,196L384.5,197.5L386,199.5L387.5,201.5L389.5,203L391.5,204.5L393.5,206L395.5,207.5L397,209L396.5,211L396,213L397.5,212.5L399,210.5L399.5,208.5L401.5,209L402,208L400,206.5L397.5,205L395,203L393,201L391,199L389.5,197L388.5,195L389.5,194L389.8,194.6L389.8,193.8Z"/>
<path fill="#dadaeb" stroke="#dadaeb" stroke-width="0.25" d="M368.5,201L371,199.5L373.5,200L375.5,200.5L378,199.5L379,198L377.5,196L377,194L377.5,193.5L375.5,192.5L376.5,190.5L378.2,189L379,188.5L379,188.1L378.5,188L378.5,186.5L377,185.5L374.5,184.5L372.5,183.5L370.5,183L368.5,181.5L367.3,180.5L367,180.5L364,182L361.5,184L359.5,183.5L358.5,185.5L356,185L353.5,186.5L355,188.5L357.5,189.5L359,192L360,194.5L359.5,197L360,199.5L362,200.5L364.5,201L367,201.5ZM368.8,202.9L369,202.5L368.5,201Z"/>
<path fill="#bcbddc" stroke="#bcbddc" stroke-width="0.25" d="M348.5,204L349,207L348.5,210L347.5,213L348,215.5L348,216L349.5,217L351,219L353.5,217.5L356.5,217.5L359.5,216L361.5,214L363,212L362.5,210.5L363.5,208L365.5,206L368,204.5L368.8,202.9L368.5,201L367,201.5L364.5,201L362,200.5L360,199.5L355,199.5L350,199.5L346,199L343.5,200.5L344,203.5L345,203Z"/>
<path fill="#dadaeb" stroke="#dadaeb" stroke-width="0.25" d="M416.5,204L414,204.5L411,205L408.5,205.5L406.5,207L406.6,207.6L407.5,209L408.5,210.5L410,212.5L411,214.5L412.5,215L413.5,216.5L414.5,215L414,213L413,211L412,209L411.5,207L412.5,205.5L414,206.2L415.5,205.5L417.5,205.8L418.8,206L418.5,204.5Z"/>
<path fill="#9e9ac8" stroke="#9e9ac8" stroke-width="0.25" d="M159.3,130.5L163.5,128.3L167.8,126.6L173.4,125.8L179.1,126.9L180.5,129L186.2,129.5L191.8,128.3L196.1,127.6L194.7,130.5L193.3,134L195.4,135.4L191.8,137.1L186.2,137.1L180.5,138L174.8,137.1L169.2,137.1L168.5,134.7L170.6,133.3L165.6,131.9L162.1,132.3Z"/>
<path fill="#9e9ac8" stroke="#9e9ac8" stroke-width="0.25" d="M175.5,122L181.9,120.1L189,119.1L188.3,121L184,122L177.7,123Z"/>
<path fill="#9e9ac8" stroke="#9e9ac8" stroke-width="0.25" d="M181.2,123.4L187.6,122.7L193.3,121.5L197.5,121.3L200.3,122.7L197.5,124.4L190.4,125.2L184.8,125.2Z"/>
<path fill="#9e9ac8" stroke="#9e9ac8" stroke-width="0.25" d="M194,118.4L201,117L201.8,118.1L196.1,119.6Z"/>
<path fill="#9e9ac8" stroke="#9e9ac8" stroke-width="0.25" d="M208.8,116.7L215.2,116.7L215.9,118.1L210.3,118.4Z"/>
<path fill="#9e9ac8" stroke="#9e9ac8" stroke-width="0.25" d="M217.3,117.7L221.6,117.3L222.3,119.1L218,119.6Z"/>
<path fill="#9e9ac8" stroke="#9e9ac8" stroke-width="0.25" d="M205.3,122.4L211.7,121.3L213.8,122.7L211.7,124.4L206.7,124.4Z"/>
<path fill="#9e9ac8" stroke="#9e9ac8" stroke-width="0.25" d="M224.4,114.2L230.1,113L235.8,112.8L240,111.6L247.1,110.6L254.2,110.2L262.7,109.9L271.2,109.6L275,110.2L271.2,112L265.5,113.5L259.8,114.2L254.2,115.6L251.3,117.7L247.1,119.8L242.8,121.3L238.6,122.4L232.9,122L228.7,121.3L227.3,119.1L231.5,118.1L225.8,117Z"/>
<path fill="#9e9ac8" stroke="#9e9ac8" stroke-width="0.25" d="M219.5,122.7L223,121.5L228.7,122.7L234.3,123L239.3,123.4L238.6,125.2L232.9,125.8L225.8,125.5L220.9,125.2Z"/>
<path fill="#9e9ac8" stroke="#9e9ac8" stroke-width="0.25" d="M198.8,129.6L202.5,127.7L206.7,127.1L208.8,127.9L207.5,129.6L205.4,131.2L202.5,132.5L200.4,131.7Z"/>
<path fill="#9e9ac8" stroke="#9e9ac8" stroke-width="0.25" d="M209.2,129.2L212.5,127.1L216.7,126.2L219.2,127.1L216.7,128.3L213.3,129.8L210.4,130.8Z"/>
<path fill="#9e9ac8" stroke="#9e9ac8" stroke-width="0.25" d="M196.7,136.2L200,135L202.9,135.4L202.5,137.5L199.2,137.9L197.1,137.5Z"/>
<path fill="#9e9ac8" stroke="#9e9ac8" stroke-width="0.25" d="M216.7,130.8L220,128.3L225.8,127.5L232.5,127.5L234.2,129.2L235,127.9L238.3,127.3L240.8,128.3L240.4,129.8L243.3,131.7L246.7,132.9L250,134.6L250.4,136.7L248.3,137.9L251.7,139.6L256.2,142.1L253.3,144.2L250.4,146.2L248.3,144.6L245.8,144.2L245,145L247.5,147.5L247.9,150L245.8,151.7L243.3,150.8L242.5,152.9L240,152.5L236.7,151.2L234.2,149.6L231.7,147.9L228.3,147.9L225.4,147.5L225.8,146.2L229.2,145.7L232.5,145L235,143.8L237.5,142.1L238.3,140L236.7,138.3L234.6,137.5L233.3,135.8L230,135.4L226.7,135.8L223.3,135.4L220,134.6L217.5,133.8L216.5,132.5Z"/>
<path fill="#9e9ac8" stroke="#9e9ac8" stroke-width="0.25" d="M208.3,149.2L214.2,145L217.5,147.5L220,149.2L216.7,149.6L212.5,150.4L210,150Z"/>
<path fill="#9e9ac8" stroke="#9e9ac8" stroke-width="0.25" d="M242.5,188.5L245,186.2L247.5,183L249,180.5L250.5,181.5L251.5,184L255,185L256.2,187.5L255.5,190L254,191.5L252.2,190L250,190.5L248,189.2L245,189Z"/>
<path fill="#9e9ac8" stroke="#9e9ac8" stroke-width="0.25" d="M234,183.5L237,183L239,184L236,184.5Z"/>
<path fill="#9e9ac8" stroke="#9e9ac8" stroke-width="0.25" d="M107,180.4L110,181.6L113.6,185.6L114.4,188.4L112,188L109,185Z"/>
<path fill="#9e9ac8" stroke="#9e9ac8" stroke-width="0.25" d="M103.6,172.4L106,172L106.8,175L105,177L103.6,175Z"/>
<path fill="#54278f" stroke="#54278f" stroke-width="0.25" d="M68,132L72.4,131.2L72.8,132.8L69,133.4Z"/>
<path fill="#54278f" stroke="#54278f" stroke-width="0.25" d="M55,157.2L59,156.8L59.2,158.6L55.6,158.8Z"/>
<path fill="#54278f" stroke="#54278f" stroke-width="0.25" d="M71,164.4L76,162.4L77,164L72.4,165.8Z"/>
<path fill="#756bb1" stroke="#756bb1" stroke-width="0.25" d="M47.6,146.4L54,142L60,138L63,141L67,143L64,145L58,147L54,145.6L50,146.4Z"/>
<path fill="#f2f0f7" stroke="#f2f0f7" stroke-width="0.25" d="M172,253.6L176,252L181,252.4L186,254.4L190,256.4L194,258.4L193,260L188,259.6L184,258L180,256.4L176,255.6L172.4,255.6Z"/>
<path fill="#f2f0f7" stroke="#f2f0f7" stroke-width="0.25" d="M197,261.6L202,260.4L207,262L208,264.4L204,265.6L199,265L197,263.6Z"/>
<path fill="#f2f0f7" stroke="#f2f0f7" stroke-width="0.25" d="M185.6,264.4L189,264.4L189.4,266L186,266Z"/>
<path fill="#f2f0f7" stroke="#f2f0f7" stroke-width="0.25" d="M210.4,264.4L213.6,264.4L213.6,266L210.4,266Z"/>
<path fill="url(#hatch)" stroke="#cfcfcf" stroke-width="0.5" d="M255,118.3L261.7,115L270,112.5L278.3,111.3L288.3,111.3L298.3,110.8L301.7,109.7L311.7,109.3L321.7,109.2L331.7,109.7L334.2,110.8L340,111.3L345,112L338.3,113.3L335,115L334.2,118.3L335,120.8L332.5,123.3L331.7,126.7L328.3,128.3L326.7,131.7L326.7,135L321.7,136.7L316.7,138.7L311.7,140L306.7,141.7L301.7,144.2L296.7,145L292.5,146.7L289.2,150L286.7,154.2L284.2,157L280.8,158.3L277.5,156.3L274.2,155L272.5,151.7L270.8,147.5L270.3,144.2L272.5,140.8L275.8,138.3L272.5,135.8L273.3,132.5L275.8,130L274.7,126.7L272.5,123.3L268.3,121.7L261.7,122L256.7,121.7Z"/>
<path fill="#f2f0f7" stroke="#f2f0f7" stroke-width="0.25" d="M320.8,145L323.3,143.3L328.3,143.7L333.3,143L337.5,143.3L339.2,145L337.5,147.5L333.3,148.7L328.3,149.7L324.2,149.2L321.7,147.5Z"/>
<path fill="#ffffff" stroke="#ffffff" stroke-width="0.25" d="M197.6,286.4L199.2,285.6L199.6,288.4L198,289.2Z"/>
<path fill="url(#hatch)" stroke="#cfcfcf" stroke-width="0.5" d="M463,358L467,353L472,349L476,345L478,349L477.4,355L475,362L472,370L469,377L465,379.6L461.4,377L460.6,371L462,364Z"/>
<path fill="#ffffff" stroke="#ffffff" stroke-width="0.25" d="M440,338L441.4,343L443.4,349L444,354L442,356L440.6,351L439.4,345L439,340Z"/>
<path fill="#bcbddc" stroke="#bcbddc" stroke-width="0.25" d="M353.2,161.1L356,161L357.4,161.4L356.5,162.5L355.5,163.5L356.5,163.9L358.1,163.5L359.1,163.9L358.8,165.1L358.1,166.5L357.4,167.5L358.6,168.2L359.8,169.1L360.7,170.3L361.6,171.5L362.6,172.6L363.3,174.3L364.9,175.2L366.1,176.4L365.6,178.1L365.4,179.5L363.5,179.9L361.2,180.4L358.8,180.6L356.5,181.4L354.1,181.8L352.2,182.8L351.3,183L352.5,181.6L354.1,180.4L355.5,179.5L354.4,179L353.4,178.3L354.1,177.4L353.6,176.4L354.1,175.2L355.1,174.3L356.5,174.1L356.7,172.9L356,171.9L354.6,171.2L353.4,170.1L352.7,168.9L352,167.7L351.3,166.3L351.2,164.9L351.8,163.2L352.5,162.1Z"/>
<path fill="#dadaeb" stroke="#dadaeb" stroke-width="0.25" d="M343.3,178.1L344,176.4L344.2,174.8L344.5,173.1L345.6,171.7L347.1,170.5L348,170.1L348,171.2L348.7,172.4L350.1,172.6L351.3,172.2L351.5,173.6L351.1,175L350.1,176.2L348.7,177.1L347.1,177.8L345.2,178.3Z"/>
<path fill="#bcbddc" stroke="#bcbddc" stroke-width="0.25" d="M348,170.1L349.4,169.7L350.8,170.1L351.8,171.2L351.3,172.2L350.1,172.6L348.7,172.4L348,171.2Z"/>
<path fill="#dadaeb" stroke="#dadaeb" stroke-width="0.25" d="M381,201L382.2,200L382.8,202L382.5,204.5L381.2,204.5Z"/>
<path fill="#9e9ac8" stroke="#9e9ac8" stroke-width="0.25" d="M389.5,214L392,213.2L394.5,213.5L396,213.8L395.5,216L394,217L391.5,215.5L389.8,215Z"/>
<path fill="#9e9ac8" stroke="#9e9ac8" stroke-width="0.25" d="M380.5,206.5L382,205.5L383.5,206L383.8,209L383,211L381.2,211.2L380.5,209Z"/>
<path fill="#f2f0f7" stroke="#f2f0f7" stroke-width="0.25" d="M433.5,221L435,220L437.5,219.5L437,220.8L435,221.8Z"/>
<path fill="#dadaeb" stroke="#dadaeb" stroke-width="0.25" d="M414.5,220L416.5,219.8L419.5,220.5L419,221.2L416,221Z"/>
<path fill="#f2f0f7" stroke="#f2f0f7" stroke-width="0.25" d="M383,168L385,167.5L386,169L384.5,170Z"/>
<path fill="#756bb1" stroke="#756bb1" stroke-width="0.25" d="M447,132L448,127L452,124L458,122L464,120.4L467.6,121L463,123L458,124.4L454,127L452.4,130L454,133L451,133.6Z"/>
<path fill="#756bb1" stroke="#756bb1" stroke-width="0.25" d="M427,113.6L432,113L436,114L432,115.2Z"/>
<path fill="#756bb1" stroke="#756bb1" stroke-width="0.25" d="M493,114L498,113L504,114.4L509,116L506,117L500,116.4L495,115.6Z"/>
<path fill="#756bb1" stroke="#756bb1" stroke-width="0.25" d="M510,117L515,116.4L518,118L513,118.8Z"/>
<path fill="#756bb1" stroke="#756bb1" stroke-width="0.25" d="M574,123L580,122L587,123.6L583,125L577,124.4Z"/>
<path fill="#756bb1" stroke="#756bb1" stroke-width="0.25" d="M589,124L596,124.4L594,125.6L590,125Z"/>
<path fill="#756bb1" stroke="#756bb1" stroke-width="0.25" d="M655,132L658,132.4L657,133.6Z"/>
<path fill="#756bb1" stroke="#756bb1" stroke-width="0.25" d="M639.2,171.8L641.8,173.5L645.3,177L648.8,180.3L651.7,182.7L654.2,184.6L652.8,185.5L654.5,188.4L656.2,190.8L657.3,192.2L655.2,191.2L653.1,188.4L651,184.8L648.1,181.3L645.3,178.5L642.5,175.6L640.1,173.2Z"/>
<path fill="#756bb1" stroke="#756bb1" stroke-width="0.25" d="M655.6,194L658,195.5L661.6,197.3L665.1,197.6L667,199L665.1,200.4L663,202.5L660.9,203.5L658.8,203L658,204.4L656.2,202.1L655.9,199.7L657.3,198.3L656.2,196.2Z"/>
<path fill="#756bb1" stroke="#756bb1" stroke-width="0.25" d="M659.5,205.4L662.3,205L664.4,207.5L665.8,211L665.6,214.6L667.3,217.4L668.4,219.5L666.5,221.7L663.7,222.8L661.6,223.8L658.8,223.1L657.3,224.5L654.5,224.2L651.7,225.2L649.5,224.5L651,222.4L653.8,221L656.6,219.5L657.3,216.7L659.5,215.3L661.3,212.5L660.9,208.9Z"/>
<path fill="#756bb1" stroke="#756bb1" stroke-width="0.25" d="M646.7,225.9L648.8,224.5L651,225.2L653.8,225.9L655.2,227.3L653.1,228.8L651.7,231.6L650.3,230.9L648.1,228.8Z"/>
<path fill="#9e9ac8" stroke="#9e9ac8" stroke-width="0.25" d="M633.4,251.5L634,248.5L635.3,246.8L636.7,247.3L636.9,250L636.6,253L635.8,255.5L635.2,255.2L634.2,253.5Z"/>
<path fill="#756bb1" stroke="#756bb1" stroke-width="0.25" d="M609.6,262.1L611.2,260.8L613.3,260.8L614.8,261.5L614.2,263.3L612.9,264.6L610.8,265L609.6,263.8Z"/>
<path fill="url(#hatch)" stroke="#cfcfcf" stroke-width="0.5" d="M546.5,288.1L548.3,287.1L550.4,289.5L551.6,293.1L550.4,296.2L547.9,297.1L546.5,294.5L545.9,291Z"/>
<path fill="#bcbddc" stroke="#bcbddc" stroke-width="0.25" d="M582.3,299.5L585.1,298.5L588.7,300.9L592.2,304.4L595.8,308.7L599.3,313.6L600,312L604,317L607,322L608,327L605,328.6L601,325L597,320L593,315L589,310L589.4,310.1L585.8,305.1L583,300.9Z"/>
<path fill="#bcbddc" stroke="#bcbddc" stroke-width="0.25" d="M606,328.6L611,329L617,330.6L623,332L628.6,333.4L628,335.4L622,335L615,334L609,332.6L605.4,330.6Z"/>
<path fill="#bcbddc" stroke="#bcbddc" stroke-width="0.25" d="M631.4,335L635,334.2L637.4,335L635,336.6Z"/>
<path fill="#bcbddc" stroke="#bcbddc" stroke-width="0.25" d="M638.6,334.6L643,334L645.4,334.6L643,336Z"/>
<path fill="#bcbddc" stroke="#bcbddc" stroke-width="0.25" d="M646,338L650,335L655,334L656,335L652,337.4L648,339.4Z"/>
<path fill="#bcbddc" stroke="#bcbddc" stroke-width="0.25" d="M636,337.4L640,338L639,339.4Z"/>
<path fill="#bcbddc" stroke="#bcbddc" stroke-width="0.25" d="M614.6,310L618,307L623,304L627.4,300.6L631,296L634,295L637.4,298.6L635,302L636,305L635,310L634,314L632,318L630,322L627,323L623,321L618,320.6L616,317L614.6,313Z"/>
<path fill="#bcbddc" stroke="#bcbddc" stroke-width="0.25" d="M638.6,312L641,310L646,309.4L652,308.6L651.4,311L647,312L644,314L647,317L645.4,319L643,318L644,323L646,327L644,327.4L642,324L640.6,327L638.6,327.4L637.4,323L638,318L638.6,315Z"/>
<path fill="#bcbddc" stroke="#bcbddc" stroke-width="0.25" d="M657,308L659,307L660,312L658,314.6L656.6,312Z"/>
<path fill="#bcbddc" stroke="#bcbddc" stroke-width="0.25" d="M653.4,320.6L657,320L664,320.6L664,322.2L657,322.2Z"/>
<path fill="#bcbddc" stroke="#bcbddc" stroke-width="0.25" d="M672,327L673.4,326.6L673.4,330L672,330.6Z"/>
<path fill="#dadaeb" stroke="#dadaeb" stroke-width="0.25" d="M637,265L640,264L642,267L641,272L643,275L642,280L639.4,279.4L638,276L636.6,271Z"/>
<path fill="#dadaeb" stroke="#dadaeb" stroke-width="0.25" d="M632,290.6L637,284L638,285L634,291Z"/>
<path fill="#dadaeb" stroke="#dadaeb" stroke-width="0.25" d="M642,282L646,283L650,282L652,285L649,287.4L645,286.6Z"/>
<path fill="#dadaeb" stroke="#dadaeb" stroke-width="0.25" d="M644,292L648,290L652,288L654,291L654.6,295L652,298L649,296L646,295L643.4,294.6Z"/>
<path fill="#bcbddc" stroke="#bcbddc" stroke-width="0.25" d="M664,315L668,314L673,316L675,318L679,317L684,317.4L688,319.4L688,336L684,334.6L680,332L683,329L679,326L675,325L671,323L668,319L665,317.4Z"/>
<path fill="#f2f0f7" stroke="#f2f0f7" stroke-width="0.25" d="M688,319.4L693,321.4L698,325L703,329L700,331L704,335L708.6,339.4L706,340L701,337.4L695,335L691,336L688,336Z"/>
<path fill="#f2f0f7" stroke="#f2f0f7" stroke-width="0.25" d="M704.6,327.4L709,326L713,323L715,321L716,323L713,326.6L709,328.6L705.4,329Z"/>
<path fill="#bcbddc" stroke="#bcbddc" stroke-width="0.25" d="M614,401L616,397L618,391L617,386L616.4,381L619,374L620,371L626,367L633,365L638,363L642,357L648,352L653,349L658,351L660,347L665,343L668,342.6L673,344L676.4,344.6L675,349L673.6,352L677,355L682,359L685,356L687,349L689,342L690.4,341L692,346L693.6,351L695,356L696,360L699,364L701,369L703,373L705,378L705.6,383L704,389L701,394L698,398L694,403L690,407L687,410.6L682,412L677,413.4L674,414.6L670,413L666,412L664.4,408L665,404L664,400L660,404L658,402L657,398L653,396L648,395L642,396.6L637,398L633,400.6L628,402L622,403L618,404.6L615,404Z"/>
<path fill="#bcbddc" stroke="#bcbddc" stroke-width="0.25" d="M668,420L673,419L677,419.4L675,423L672,426L668,426.6L667,423Z"/>
<path fill="#f2f0f7" stroke="#f2f0f7" stroke-width="0.25" d="M738.6,404L740,402.6L741.6,405L741.2,408.6L744.4,409.8L747.2,411L744.4,414L741,416.6L738,419.4L733.6,421.8L731,420.6L732.4,417.4L734.4,414.6L736.4,411L738,407.4Z"/>
<path fill="#f2f0f7" stroke="#f2f0f7" stroke-width="0.25" d="M705.4,432.6L709,429L716,426L722,423L728,419L731,420.6L730,423L724,426L718,429L712,433L708,434.6L705.6,434Z"/>
<path fill="#f2f0f7" stroke="#f2f0f7" stroke-width="0.25" d="M734.4,365.4L736,365L740,370L739,371.4L736,368.6Z"/>
<path fill="#54278f" stroke="#54278f" stroke-width="0.25" d="M5.5,256L7,256.4L9.3,258.1L9,258.9L6.8,257.3Z"/>
<path fill="#54278f" stroke="#54278f" stroke-width="0.25" d="M2.1,254.9L3,254.9L3,255.8L2.1,255.8Z"/>
<path fill="#54278f" stroke="#54278f" stroke-width="0.25" d="M9.2,260.8L10.8,260.3L12,261.8L11.2,263.3L9.4,263.5Z"/>
<path fill="#f2f0f7" stroke="#f2f0f7" stroke-width="0.25" d="M378,115.5L381.5,114.8L385,115L388,114.2L391.5,113.5L396,113.2L400,113.8L402,114.8L401.5,115.8L398,116L395,116.5L393.5,116L392,116.5L390.5,118.5L389,120.5L387.5,121.5L385,120.5L382.5,119L380,117.5L378.5,116.5Z"/>
<path fill="#f2f0f7" stroke="#f2f0f7" stroke-width="0.25" d="M394,118.5L397,118L399.5,118.5L399,119.5L395,119.5Z"/>
<path fill="#f2f0f7" stroke="#f2f0f7" stroke-width="0.25" d="M719.4,327.4L722,328.6L721.4,329.8L719,328.6Z"/>
<path fill="#f2f0f7" stroke="#f2f0f7" stroke-width="0.25" d="M724,331L727,332.6L726.2,333.8L723.6,332.2Z"/>
<path fill="#f2f0f7" stroke="#f2f0f7" stroke-width="0.25" d="M729,334L732,336L731,337.2L728.6,335.4Z"/>
<path fill="#f2f0f7" stroke="#f2f0f7" stroke-width="0.25" d="M733,338L735,339.4L734.2,340.6L732.6,339Z"/>
<path fill="#f2f0f7" stroke="#f2f0f7" stroke-width="0.25" d="M743.6,351.4L745,352L745,356L743.6,355Z"/>
<path fill="#f2f0f7" stroke="#f2f0f7" stroke-width="0.25" d="M766,358.6L769,357.4L769.6,360L767,360.6Z"/>
<path fill="#f2f0f7" stroke="#f2f0f7" stroke-width="0.25" d="M220,284.4L222.4,284.4L222.4,286.4L220,286.4Z"/>
<path fill="#f2f0f7" stroke="#f2f0f7" stroke-width="0.25" d="M187,243L189,242.4L189.6,245L188,245.6Z"/>
<path fill="#f2f0f7" stroke="#f2f0f7" stroke-width="0.25" d="M188,248.4L189.6,248L190,250.4L188.4,250.4Z"/>
<path fill="none" stroke="#333" stroke-width="0.33" d="M105.5,226.9L107,227.6L111,228L116,229L122,229.6L127,230L131,232L133,235.6L136.4,235L140,237L142.4,242L144.4,244.4M105.5,226.9L106,228L105.6,231L106,236L107,241L108.4,240L110,244L112.4,249L115,253L116.6,252L115.6,248L113.6,243L111.6,238L110,233L109.4,229.2L110.4,230L112,233L114,238L117,244L120,249L122,254L124,259L126,262L130,265L135,267.6L140,269.6L145,271L150,272.4L152.1,273M112.5,188.1L112.4,188.4L109,192L105.6,197L102,202L99.6,207L99,212L99.6,218L101,223L105,225.6L105.5,226.9M110.8,172.6L110.6,175L112.4,180L115,185.4L113.6,185.6M110.8,172.6L111,170.4L110,166L108.4,162.4L105.6,159.2L99,157.6L94,156.4L89,156L82.4,159L75.6,162.4L66,166L56,169L44,171.4L56,168L64,165L70,162.4L65,161L61,159L60.4,156L64,153L70,151L78,150L82,148.4L80,147L75,147.6L70.6,147L71,144.4L78,143L83,142L81.6,140L82.4,137.6L90,136L98,134L108,132.4L118,134L127.4,135.6M127.4,135.6L105,157.6L109,159.2L111.6,162.4L112.4,167L114,170.4L110.8,172.6M113.6,185.6L114.4,188.4L112.5,188.1M112.5,188.1L112,188L109,185L107,180.4L110,181.6L113.6,185.6M113.6,185.6L112.5,188.1M113.6,185.6L170,185.6L172,186.4L178,187.2L184,188.4L188,190L189,190L191.5,192L192.5,195L191.5,197.5L189.5,200L187.8,202.5L188.5,204L191,203.5L194,202.5L197,201L199,199.5L203,198.8L206.5,197.8L210.5,196.5L215,194.5L218.5,192L221,190L223.5,190L224.2,193.5L225.5,195M197.1,137.5L193.3,139.1L186,139.6L178,140.4L170,139.6L166,136.6L158,135.6L152,134.4L144,135L136,136.4L127.4,135.6M166.4,257.8L166,257L160,257.6L158,260L155,263.6L150,264.4L147,263L144,259L143,254L143.6,249L144.4,244.4M144.4,244.4L147,241L151,238L156,235.6L161,234.4L165.6,235L170,234L175,235L177.6,238L179,243L181,247L183,246L183.6,242L182.4,237L182,232.4L184,230L189,226.4L194,222.4L198,220L198.8,220L199,218L199.8,216L200,214L201.5,213L202.5,211L204.5,209L206.5,207L209,206.2L211.5,205L214.5,204L216,202L215,200L217,198.5L220,197L223.5,195.2L224.8,194.7L225.5,195M152.1,273L153,273.2L155,275.8L159,277.8L163,279.2L165,282.2L165.8,285.2M152.1,273L152.4,272.4L154,270.4L156,268L158.4,267L160,265.4L162.4,264L165.6,260M159.7,274.9L159,277.2M159.4,274.8L159.7,274.9M159.7,274.9L163,276L163.6,278.6M161,270L160,274L159.7,274.9M160,265.6L160.2,267.3M160.2,267.3L160.4,268.9M160.4,268.9L160,268L160.2,267.3M160.2,267.3L161,265L163,265L165,262L166.3,260M161,270L160.4,268.9M160.4,268.9L160.6,270M171.5,273.1L171,272L166,271L161,270M163.6,277.2L167,274.4L171.5,273.1M165.6,260L166.3,260M166.4,257.8L165.6,260M165.6,285.2L165.8,285.2M165.8,285.2L166,285.8L169,288.6L172,291.2L175,292.6L178,293.2L181,292.6L183,292.8L184.3,292.6M165.8,285.2L171.4,284.2M166.3,260L167,259L166.4,257.8M184.8,290.6L184,288.4L181,287.6L178,289L174.4,288L172,286.4L171.4,284.2M171.4,284.2L171,283L172,279L172.4,275L171.5,273.1M171.4,284.2L171.6,284.2M171.5,273.1L172,273M172,288L173,291.4M190,316L187,319L183,322L181,325L178,326L176,325M176,325L176.4,327L179,332L182,338L185,344L188,350L192,354.4L198,358L203,360M179,310L177,313L176,318L175.6,323L176,325M179,310L185,311L189,313L190,316M184.3,292.6L183,296L182,301L181,306L179,310M184.8,290.6L184.4,292.4L184.3,292.6M184.3,292.6L184.4,292.6L185,291L184.8,290.6M220,286L217,285.4L212,286L207,285.6L202,283.6L199.6,282.4L198,281.6L193,283L188,286L185,290L184.8,290.6M190,316L192,318L197,319L201,317M197,285L195.6,289L196.4,293L200,294.4L206,295.6L207.6,300L208,305L207,310M199.3,137.9L199.2,137.9L197.1,137.5L197.1,137.5M197.1,137.5L196.7,136.2L200,135L202.9,135.4L202.5,137.5L199.3,137.9M199.3,137.9L197.5,137.3L197.1,137.5M223.3,135.4L220,136.7L216.7,138.8L214,140.4L214.3,138.5L212.9,137.1L210.2,136.2L211.7,134.6L210.4,132.5L209.5,131.5L206.7,134L203.9,137.1L200.3,138.3L199.3,137.9M207,340L202,341L201,339.6L197,338L194.4,336L193.6,331L195.6,327L199,324.4L202,322L201,317M201,317L201.6,312L203,309L207,310M202.8,360L203,360M203,360L205,360M203,360L204,366L204.4,370L204.4,382L204,392L204.4,402L205,411L206.4,418L207.6,424L209,428L208,433L209.6,436L211,441L213.6,446L217,450L221,453L226,455.6L231,457L236,456.4L237,455L232,453L230.1,452.1M205,360L205.2,360M211.6,370.5L210,368L208,363L205,360M205,360L206,354L205,348L205.6,343L207,340M207,310L211,310L215,308L216,304L220,302.4L224,301M207,340L211.6,338.4L214,342L218,345L223,348L226,352L229,355.6L231.6,357L232,361.6M224.2,372.8L222.4,372L220,370L212.4,371L211.6,370.5M230.1,452.1L230,452.4L227.6,454L227,449L224,448L220,447L217,442.4L215.6,435L213.6,427L211.6,420L211.2,412L210,404L209.2,396L208,390L208.4,382L209.6,375L211,370L211.6,370.5M222,286.4L220,286M222,286.4L220,286.4L220,286M220,286L220,284.4L222.4,284.4L222.4,286.4L222,286.4M224,289.6L222,286.4M223.3,135.4L220,134.6L217.5,133.8L216.5,132.5L216.7,130.8L220,128.3L225.8,127.5L232.5,127.5L234.2,129.2L235,127.9L238.3,127.3L240.8,128.3L240.4,129.8L243.3,131.7L246.7,132.9L250,134.6L250.4,136.7L248.3,137.9L251.7,139.6L256.2,142.1L253.3,144.2L250.4,146.2L248.3,144.6L245.8,144.2L245,145L247.5,147.5L247.9,150L245.8,151.7L243.3,150.8L242.5,152.9L240,152.5L236.7,151.2L234.2,149.6L231.7,147.9L228.3,147.9L225.4,147.5L225.8,146.2L229.2,145.7L232.5,145L235,143.8L237.5,142.1L238.3,140L236.7,138.3L234.6,137.5L233.3,135.8L230,135.4L226.7,135.8L223.3,135.4M228.2,197.9L232,196.5L236.5,194.8L240,193.5L239.5,190.8L236,192.2L232.5,192.5L230.7,191.2L231.5,188.5L233,186L231.5,185L228,185.5L224.5,187L221.5,189L219.5,190.5L218.8,190.3L220,189.2L223,187L226,185L229,183.5L232,182.5L235,182.5L239,182.5L243,181.2L247,180L250,179L253,177.5L254,175L253,171.5L250,169L248.3,168.3L245.8,163.3L245,158.3L243.3,157.9L240,160.4L236.7,161.7L234.6,159.2L235.8,155.8L233.3,155L230.8,152.5L226.7,152.1L222.3,152.7L220.2,156L218,160.9L217.3,165.2L214.5,168L210.3,170.1L209.1,172.3L208.1,176.5L205.7,178.6L203.5,177.2L202.9,173.7L203.9,170.1L200.3,169.1L196.1,166.6L189.7,164.5L187.9,162.3L188.3,159.5L191.8,156L195,152.9L200,150.4L205.8,148.8L210,146.7L212.9,145L215,143.5L218.3,143.2L221.7,142.1L224.2,140.4L226.7,137.9L226.2,136.2L223.3,135.4M231,298.4L229,296L226,292.4L224,289.6M224,301L224,299L222,296L223.6,293L224,289.6M229,309L227,307L225,304L224,301M242.8,381.9L240,380L238,384L233,383L232,378L226,373.6L224.2,372.8M232,361.6L229,363.6L224,364L222,368L222.4,371.6L224.2,372.8M225.5,195L227,195.5L226.5,196.1M226.5,196.1L228.2,197.9M226.5,196.1L225,197.8L225.5,199.2L228,198L228.2,197.9M231,307L229,309M229,309L233,307.6M230.1,452.1L229,451.6L228,449L225,447.6L226,445L228,442L229,437L225,435L226,432L229,430L227,427L229,424L226,422L228,420.4L231,419L230,415L234,414.4L238.4,413L240.4,410L239,407L237,404L237.5,403.5M231,307L230.4,304L229.6,301L231,298.4M237,306.4L237,305L238,301L238.4,298L235,297.6L231,298.4M233,307.6L231,307M232,361.6L232,362L233,367L237,370L240,374L241,378L243,381L242.8,381.9M237,306.4L233,307.6M236,392L240,392.4L244,395L246.6,399.3M237.5,403.5L235.6,402L235,397L236,392M242.8,381.9L242.4,384L240,388L237.6,391L236,392M246.6,399.3L247,398L250,392L253,386L254,380L257,376L262,374L268,372L271,367L273.6,361L274.4,355L275,349L278,344L281,339L283,334L282.4,330L279.6,325.6L275,322L270,320L264,319L258,316L252,314L247,311L247.6,308L246,304L244,306L241,307L237,306.4M237.5,403.5L238,403L241,404.4L245,403.6L247,401L246.4,400L246.6,399.3M324.2,276.5L328,276.2L331,277.2L330.8,278.4L327.5,278.2L324.2,277.8M331,280.5L328,281L325,280.5M325,280.5L328,283.5M349,245L348.6,247L349.4,259L350.2,271.5L336,273L333,271L330,269.5L327,269.3L325,270.2L324.6,270.6L323.5,272.5L322.5,274.5L324,279L325,280.5M328,283.5L330,286L332,289.5M331,280.5L330.5,282.5L328,283.5M336,273.5L335.5,276.5L336.5,279.7L334.5,280L331,280.5M332,289.5L334,293L336.5,295M332,289.5L333,288L334.5,286.5L336.5,287L337.5,289L338.5,290.5M336.5,280L339.5,281.5L342.5,280.5L343.8,283.5L344.5,286M336.5,295L340.5,299L343.5,301.2L345,301.5L348,300.5L352,299.5L355.5,299.5L355.9,299.6M338.5,290.5L337.5,293L336.5,295M338.5,290.5L339.5,290L341,292.5L342.5,293.5M342.5,293.5L343.5,295L344.5,298L345,301.2M342.5,293.5L343,291L343.5,288L344.5,286M344,203.5L344,205L343.5,207.5L342.5,210.5L343,213L343.5,215.5L345.5,216L348,216M360,199.5L355,199.5L350,199.5L346,199L343.5,200.5L344,203.5M348,216L348,215.5L347.5,213L348.5,210L349,207L348.5,204L345,203L344,203.5M344,241L349,245M358.4,219L357,219L354,221L348,224L344,227L342,232L339,237L335,240L344,241M344,241L345,238L352,234L358,231L360,226L358.6,222L358.4,219M344.5,286L347,286.5L350,285.5M348,170.1L348,171.2L348.7,172.4L350.1,172.6L351.3,172.2M351.3,172.2L351.5,173.6L351.1,175L350.1,176.2L348.7,177.1L347.1,177.8L345.2,178.3L343.3,178.1L344,176.4L344.2,174.8L344.5,173.1L345.6,171.7L347.1,170.5L348,170.1M348,170.1L349.4,169.7L350.8,170.1L351.8,171.2L351.3,172.2M348,216L349.5,217L351,219L353.5,217.5L356.5,217.5L359.5,216L361.5,214L363,212L362.5,210.5L363.5,208L365.5,206L368,204.5L368.8,202.9M389.4,250.6L381,256L373,262.6L368,260L358,252L349,245M350,285.5L351.5,287L354,287.5L356,287L356.5,284.2M350,285.5L350.5,283.5L351,281.5L353,278.5L356.5,276L360,274L362,273.5M355.9,299.6L359,300L362,298.5L364.8,297.3M355.9,299.6L355.8,294L356.5,290L356.2,287L356.5,284.2M356.5,284.2L363.5,284M380.6,217L375,216.6L366,217.4L359,219L358.4,219M360,199.5L362,200.5L364.5,201L367,201.5L368.5,201M367.3,180.5L367,180.5L364,182L361.5,184L359.5,183.5L358.5,185.5L356,185L353.5,186.5L355,188.5L357.5,189.5L359,192L360,194.5L359.5,197L360,199.5M362,273.5L363.5,275L365,278L367,280L369,281M372.5,262.8L372.5,270L371,272L366,273L362,273.5M363.5,284L365.5,285M363.5,284L364,287L364.5,291L365,295L364.8,297L364.8,297.3M364.8,297.3L365,297.2L370,296.5M365.5,285L366,289L366.8,293L367,296.5M365.5,285L367,283L369,281M367.3,180.5L368.5,181.5L370.5,183L372.5,183.5L374.5,184.5M371,178L370,180L367.3,180.5M368.8,202.9L369,202.5L368.5,201M368.5,201L368.8,202.9M368.5,201L371,199.5L373.5,200L375.5,200.5L378,199.5L379,198M369,281L370.5,282M370,296.5L373.5,297L375.5,299L377,301.2L380,301.5L382.5,300.5M370,296.5L369.5,292L370,288L371,285L370.5,282M370.5,282L371,278.5L373.5,276.5L377,277.5L380,278.5L384,279L388,278.5L392,277.8L394.5,278L396,281L394,284.5L392.5,288L391,292L389.5,294.5L386,296L383.5,298L382.5,300.5M371,178L371.5,179.5L372.5,179.8L374.5,181M376.5,174.5L375,174L372.5,175L371,178M374.5,181L375.5,183L374.5,184.5M376.5,174.5L376.2,177L375.5,179L374.5,181M374.5,184.5L377,185.5L378.5,186.5L378.5,188L379,188.1M379.5,171L378,173L376.5,174.5M377.5,193.5L377,194L377.5,196L379,198M377.5,193.5L375.5,192.5L376.5,190.5L378.2,189L379,188.5L379,188.1M383.2,191.2L383,191.5L381.5,192.5L379.5,193L377.5,193.5M379,188.1L380.5,188.5L383,189L383.5,188.9M379,198L380.5,196.5L382.5,196L384.5,197.5L386,199.5L387.5,201.5L389.5,203L391.5,204.5L393.5,206L395.5,207.5L397,209L396.5,211L396,213L397.5,212.5L399,210.5L399.5,208.5L401.5,209L402,208L400,206.5L397.5,205L395,203L393,201L391,199L389.5,197L388.5,195L389.5,194L389.8,194.6M379.5,171L381,171.5L381.9,169.2M381.9,169.2L381.5,167.5L382.5,165.5L382,163.5L380,164L378.5,165L378.5,167L379,169L379.5,171M384.6,232.5L382,229L380,223L380.6,217M388,226L386,223L387.4,219L385,216L380.6,217M390.8,173L389.5,172.5L387.5,172L385,171.2L383.5,172.2L381.5,172L382,169.5L381.9,169.2M382.5,300.5L384.5,303L385,307M383.5,188.9L384,190L383.2,191.2M383.2,191.2L385.5,190.8L388,191.2L390,192M383.5,160.5L384,161.5L385,163L386.5,165L388,168L389.5,169L391.5,168L393.5,167L394.5,164.5L395,162L397,159.5L397.5,157.5L395.5,156L394.5,154L395,151.5L397,149.5L399,147L401,145L402.8,144.2L403.5,144L404.5,144.5L406.2,145.2L405.5,146.5L403.5,148.5L401.5,150.5L401.2,153L402,155.5L404,157.5L406.5,158.5L410,158.2L413,157.5L415.5,156M414.5,135L414,134L411.5,132.8L408,132.2L404,132.5L400,133.5L396,134.5L392,136.5L388.5,139.5L385,143L381.5,146.5L378,149L374.5,151.5L372.5,153.5L372.2,156L372.8,159L374,161.5L376,162.8L379,162.2L381.5,161L383.5,160.5M402.5,138L400.5,137.5L398.5,136.8L396.5,137.8L394,139L391.5,140.5L390.5,142.5L389,145L386.5,148L385,149.5L384.5,152L385.5,154.5L385.8,157L384.5,159L383.5,160.5M389,185.5L389.8,187.5L388,188.5L386,188.2L383.5,188.9M385,233L384.6,232.5M384.6,232.5L384.8,232.1M384.8,232.1L385,233M384.8,232.1L385.4,230L388,226M389.4,250.6L385,245L384,239L385,233M385,306.2L389.5,306.5L393.5,307L399,308M385,307L389,307L389.2,310L385,310.2M385,307L384.5,311L384.6,315L387,320L388.6,322.7M418.7,229.9L418.6,229.9L417,229.4L409,228L403,231L395,228L388,226M388.6,322.7L388,324M388.6,322.7L390,325L391.4,328M393.5,307.5L395,310L396,314L395.5,318L393,319.5L391,319L389.5,321L388.6,322.7M389,185.5L391,186L393.5,185.8L396,186M392,180L390.5,181L388.5,182L387.5,183.5L389,185.5M398.6,252L395,253.4L389.4,250.6M389.4,358L391,363L394,370L395.4,377L397.4,383L399.4,387.7M391.4,328L393,334L394,340L392,347L390,352L389.4,358M389.4,358L397,357.6L405,358.4L413.4,358.4L421,360L425,358M394,193.2L392,194L389.8,193.8M389.8,193.8L389.8,194.6M390,192L389.8,193.8M389.8,194.6L390,195L391.5,195.5L393,197.5L395,199.5L397.5,201.5L400.5,202.5M390,192L393.5,192M390.8,173L390.2,173.5L390.5,175L391,177.5L392,180M401.5,170.2L400,171.2L397,170.8L393.5,171.5L390.8,173M399,308L404.5,304L406,303L405,307L404,312L402.5,316L400,320L398.5,324L396,325.6L393,327L391.4,327M391.4,328L399,328.4L402,332L407,333L411,331L414,336L414.6,341L418,342M399.5,182.5L397,181.5L394.5,180.5L392,180M393.5,192L394,193.2M393.5,192L396,191.2M394,193.2L396.5,192M396,186L397,188.5M396,186L398,185L400,184L399.5,182.5M396,191.2L396.5,192M397,188.5L397,189.5L396,191.2M396.5,192L398.5,192.8L401,193M397,188.5L399,187.8L402,187.5L405,187L408,186.5L408.5,185M398.6,252L416,260M399,304L397.5,301L396.8,298L398,295L400,293L399,291.5L396.5,287.5L398,286L397.5,283L396,280L396.5,278L395,276L394.5,272.5L396.5,269L397.5,265L397.4,261L398.6,252M399,308L399.5,305L399,304M425.5,299.5L421,299L417,300L414,301L410,299.5L406.5,300L405,302.5L401.5,303.5L399,304M399,387.6L399.4,387.7M399.4,387.7L405,388.4L408.2,383.6M399.4,387.7L400,389L402.6,394L403,399L405,403L409,402.4L415,401L421,399.6L426,397L430,393L434,388L437,383M409,184.5L406.5,184L404,183.5L401.5,182.8L399.5,182.5M400.5,202.5L403,203M400.5,202.5L398.5,201L396,199L394,197L395,195.5L397,194.8L399,195L401.5,194.5M401,201.5L400.5,202.5M401.5,194.5L401,193M401,193L404,192.5L406.5,191M401,201.5L403,203M403.5,198L402.5,200L401,201.5M401.5,170.2L401,170.8L401.5,171.5L404,171.8L406.5,171.2M403,169.8L401.5,170.2M401.5,194.5L403,196L403.5,198M402.5,138L403.5,141L403.5,143.8M412,137L409.5,135L407,135L405,136.5L402.5,138M403,169.8L405,170L406.5,171.2M403.5,166.5L403.5,168.5L403,169.8M403,203L404.5,204.5M407,161.5L406.5,162L405,163.5L403.5,164.5L403.5,166.5M403.5,166.5L404.5,166.2L407,165.5L410,165L413,165.5L415.5,165M405.5,200.5L404.5,199L403.5,198M404.5,204.5L404.8,206.5L405.5,208.5L406.5,207.5L406.6,207.6M404.5,204.5L406,203.5M407.5,201L405.5,200.5M405.5,200.5L406,203.5M406,203.5L407,205L406.5,207M406.5,171.2L409,171.5L410,172.8L410.5,173.5M406.5,191L408.5,192L410,194L409.5,196L409.9,196.8M406.5,191L408.5,189.5L409.5,187.5M406.5,192L407.5,194.5L409.5,196.5M406.6,207.6L406.5,207M406.5,207L408.5,205.5M406.6,207.6L407.5,209L408.5,210.5L410,212.5L411,214.5L412.5,215L413.5,216.5L414.5,215L414,213L413,211L412,209L411.5,207L412.5,205.5L414,206.2L415.5,205.5L417.5,205.8L418.8,206M407,161.5L409,162.2L412,161.8L415.5,161.5M415,158.5L410,159L406.5,159.5L407,161.5M407.5,201L408.5,203L408.5,205.5M409.5,200L407.5,201M410.6,359L410,369.6L408.2,370L408.2,383.6M408.2,383.6L410,382.4L413,379L417,380L421,376L425,373L429,370M408.5,205.5L411,205M420.5,190.5L418.5,188.5L415,188L411.5,188.5L410,187.5L409,186L409,184.5M409,184.5L409.5,184L409,182L410.5,179.5L410,177M409.5,196.5L409.9,196.8M409.5,196.5L410,199M409.5,200L411,202L411,205M410,199L409.5,200M409.9,196.8L411.5,198L414,198.5L417,199L420,198.5L422.5,198M409.9,196.8L410.5,198L410,199M410.5,173.5L409.5,175L410,177M410,177L412,176.5L415,177L418,177.5L421,178L424,177.5L426.2,176.5M410,199L411,201.5L413.5,202.5L415.5,202.5M410.5,173.5L412,172.2L414,171L415,169.5L417,168M411,205L414,204.5L416.5,204L418.5,204.5M415.5,156L417.5,154L419,151.5L417,149L415,146L414,143L413,140L412,137M412,137L414.5,135M418,342L417,346.4L413,347.6L413.4,358M636.7,201.3L638.2,200.4L641,201.1L643.9,199L645.3,195.5L646.3,191.2L645.7,186.3L643.9,181.3L641,177L637.5,173.5L634,172.1L629,172.8L624.4,170L626.4,165L629,161L634,160L640,159.6L646,160L650,159L651,156L656,156L658,153L660,155L661,160L658.4,163L660,166L663,169L667,173L671,177L675,179.6L676,177L674,173.6L675,170L673,167L670,164L665.6,162L666,159L670,158L676,157L678,155L682,153.6L686,152L680,149.6L678,147L672,142L666,138.4L660,136L652,135.2L646,135.6L649,137.6L644,137L636,136.4L628,135.6L622,133.6L614,133L606,131.6L598,130L591,129L586,128L588,131L582,130L577,132L572,131L570,129.6L566,128.4L560,127.6L554,128L548,128L542,127L536,126L539,124L536,122.4L530,121.6L524,121L518,119.6L512,121L506,122.4L500,124L496,126.4L492,128L489,131L486,130.4L484,130L485.6,134L488,138L489.6,141.6L487.6,143L486.4,140L484,137L482,135L480,132L478,129L474.4,129.6L473,131.6L475,135L478,138.4L474,137.6L469,137L464,136L460,137.6L455,138L450,139.5L448,140L445,141L443,140.5L442,139L439,138.2L436.5,139L437.5,141L439,143L435.5,143.5L433,145L430,146.5L428,148L427,146.5L425,145.5L423,144.5L421.5,142.8L424,142.5L427,143.2L430,143.5L433,143L434,141.5L432,139.5L429,138L425,137.2L421,136.5L418,135.5L414.5,135M415.5,161.5L415,159.5L415,158.5M415.5,156L415,158L415,158.5M415.5,165L414.8,163.5L415.5,161.5M417,168L416,167L415.5,165M419,255.4L419,260.6L416,260M416,260L417.4,261L417,269L417.8,271L415.5,272.5L413.5,276L413.5,280L415,283.5L413.5,286L415,284L416.5,286.5L418,290L420,292L422,294.5L424,297L425.5,299.5M417,168L419.5,168.2L422,169.5L424,172L426,174L425,175L426.2,176.5M418,289.5L419.5,287.5L421,285.5L423,286.5L426,288L429,288.5L432,286L435,286.5L436.5,283.5L437.5,281L439,283L439.8,285.5L441,287.5M418,342L424,343L429,347L431,345L429,340L428.6,336L433,334.4M418.5,204.5L418.8,206M418.5,204.5L420.5,203.8L422.5,203.2M439,231.2L437,232L431,232.6L424,231.4L418.7,229.9M419,255.4L419,251L418,239L418.6,232L418.7,229.9M418.8,206L420,206.5L421.2,206.2L420.5,207L420,209L420,211L421,213L423,214.5L425,216L427.5,217.5L430,218L432.5,218.5L435,217.8L438,218.5L440.5,217.5L442,218.5L444.5,217.8L447,217.2L449.5,216.5L452,216M444.9,255.4L419,255.4M420.5,190.5L422,193L423.5,194.5M423.5,194.5L424.5,194L424,191.5L422,189.5L420.5,190.5M449.8,204.6L449.5,205L446.5,205.2L443,204.8L440,204L436.5,203.5L433.5,203.2L431,203.8L428.5,205L425.5,205.5L423,204.5L422.5,203.2M422.5,203.2L422,201.8L422.5,199.9L423.5,197.5L424.4,195.2L424.5,194.8L423.5,194.5M425,358L425,365L429,370M425,358L430,354M434.5,304L432,302.5L429,301.5L427,300.5L425.5,299.5M426.2,176.5L429,177L431,178L435,181L439,182.5L443,184L442.8,183.4L443.5,184.8L443.6,186.7L443.6,186.7L442.5,187.6L441.4,188.6L440.6,190L440.9,191.4L441.1,193.1L439.9,194L439.2,194.9L438.9,194.8L439.1,195.7L440.6,196.1L442.3,197.1L444.2,198.2L446.1,199.4L447.9,200.1L450.1,200.8M429,370L434,369M432,321L430,320M430,320L430.5,324.5M430.5,316.5L430,320M438,358L436,355L430,354M430,354L436,351.6L440,349L441,354L438,358M432.5,314.8L430.5,316.5M430.5,316.5L434,316L434.5,319L432,321M430.5,324.5L430.6,326L432,332L433,334.4M432,321L433,321.5L432.5,324L430.5,324.5M441,315L436,315L432.5,314.8M432.5,314.8L432,312L433.5,309L434.5,306.5L434.5,304M433,334.4L438.6,337L440,343L447,342L455.3,339.6M434,369L433,378L435,380L437,383M434,369L437,364L438,358M434.2,235L438.8,240.5M434.5,304L437.5,303.5L441.5,302.5M437,383L438,379L441,377L443.4,374L443,369L442,365L445,361L450,357L454,354L456,350L456,345L455.4,340L455.3,339.6M439.4,232.4L439,231.2M441.2,224L441.2,223.7L441.2,224L440.5,223L440.5,223.1L440,225.5L440,230L439,231.2M440.6,235.9L439.4,232.4M440.6,235.9L439.4,232.4M440.3,237L439.6,239.9L443.5,244.4L447.1,250.3L450.2,256.2L454.7,262.1L458.8,267.9L459.3,269.3M440.6,235.9L440.3,237M440.3,237L441.2,236.2L441.2,236M440.5,223L441.8,224M444.9,255.4L442.4,250.3L440,244.4L439.3,240.3L440.6,235.9M441.2,236L440.6,235.9M440.6,235.9L441,234.1L440.8,232.2L440.5,230.4L440.8,228.5L441,226.6L441.2,224.7M441,287.5L440,290L439.2,292L441,294.5L443,297L444,299.5M441,287.5L444,283L446,278L446,275M441,315L446,318L450,321L453.5,324M441.5,302.5L442.5,305L442.8,309L441.5,312L441,315M448.4,226.9L449,228.5L445.7,230.1L444.3,230.1L445.7,232.7L445.9,233.6L443.8,235.1L441.5,236L441.2,236M441.8,224L441.2,224M441.2,224L441.2,224.7M441.2,224.7L441.6,224.6L441.8,224M444,299.5L442.5,301.5L441.5,302.5M444,299.5L447,301.5L450,303L454,303.5L458,302.5M449.7,265.5L447.6,262.1L445.3,256.2L444.9,255.4M446,275L447,271L449,267L449.7,265.5M446,275L450,274.5L454,275L457,277.5L460,280.5M448.4,226.9L449.7,227.2M449,225L448.4,225.4L448.1,226.1L448.4,226.9M449.7,227.2L449.5,227L449,225M452,216L453,217.5L452,220L451.7,220.8L452.3,221.9L451.4,223.3L449.4,224.6L449,225M449.5,201.5L450.2,201.2M449.7,227.2L452.5,229.5L456,231L460,233L464,235.5L466.5,236L467.2,235.6M460.7,279.8L459.4,278.5L455.3,273.8L451.2,267.9L449.7,265.5M449.7,265.5L450,265M449.8,204.6L449.8,204.7L452.5,205.8M450.2,201.2L450.5,203.5L449.8,204.6M450.1,200.8L450.2,201.2M452,200.5L450.1,200.8M450.2,201.2L452,200.5M463,205L461,204L458,202.5L455,201.5L452,200.5M452,216L455,215.5L458,215M452.5,205.8L453.5,205.8L456,206.2M452.5,205.8L455,207L457,209M455.3,339.6L454,335L453,329L455,323L458,317L458.4,316.6M455.3,339.6L455.4,339.6M456,206.2L459,206.5M456,206.2L457,209M457,209L458.5,211M458,215L462.4,220M458,212L457.5,213L458,215M462.4,220L462.7,218.9L460.5,216L458.4,213.2L458,212M458.3,211.5L457.7,211.1L458,212M458.3,211.5L459.8,212.5L462.7,214.2L465.5,212.5L468.3,213.2L471.5,215.1M458.5,211L458.3,211.5M463,284.6L465.4,288.6L475,292.6L467.4,301L462,303.4L457.4,303L457.4,310L458.4,316.6M458.4,316.6L463,312L468,306L473,299L477,293L479.4,287L480,282L475,283L467,284L463,284.6M462,210L460.5,210.5L459,209.5L458.5,211M462,210L460.5,208.5L459,206.5M459,206.5L461.5,206.2L463,205M459.3,269.3L460.8,273.8L461.5,278.5L462.9,279.7L467.1,279.1L471.8,277.4L476.5,275L480.6,272.6L484.1,269.7M481.8,263.2L477.1,264.4L473.5,266.2L470.6,267.4L468.8,266.8L465.3,267.4L461.2,269.1L459.3,269.3M460,280.5L459,282.5L462,286M460,280.5L460.7,279.8M465.5,201.9L463.4,199.8L461.3,198.3L460.5,196.2M462,194.1L460.5,196.2M460.5,196.2L462,194.2M463,284.6L464,283L460.8,279.9L460.7,279.8M460.7,279.8L461,279.5M462,194.2L462,194.1M462,194.1L459.8,189.8L457.7,184.9L458.4,182L461.3,179.9L465.5,178.8L469.8,179.2L474,180.2L479.7,179.9L483.9,180.2L484.6,177.8L482.5,175L485.3,172.8L491,171.4L496.7,170L499.5,171.1L503.8,172.1L509.4,172.1L513.7,173.5L517.9,176.4L520.8,179.2L525,180.6L530.7,182L534.9,183L538,184.2M468.6,212L467,212L465,210L463.5,209.5L462,210M462,194.2L462.7,193.4L466.2,191.3L469.8,191.3L472.3,192L471.9,193.8L469.8,195.5L470,198.1L471.5,200.5L473.3,202.6L474.7,204.7L476.6,208L478,211.8L478.5,215.1M462.4,220L462,221.7L463.4,224.5L466.2,227.4L468.3,230.9L470.2,233.5M463,205L465,205.5M465,205.5L467.8,205.5M465.5,201.9L466.2,203.7L465,205.5M467.8,205.5L467.6,204.7L465.5,201.9M467.2,235.6L467.4,236.8L468.8,237.4L470,236.8L470.2,235.9M469.2,234.7L468.8,234.4L467.1,235L467.2,235.6M468.6,212L468.1,210.4L468.3,207.5L467.8,205.5M471.5,215.1L469,213.2L468.6,212M470.1,235.5L469.2,234.7M469.2,234.7L470,234.5L470.2,233.7M470.2,235.9L470.2,235.8L470.1,235.5M470.1,235.5L470,235L470.6,234.9M476.6,246.1L475.3,243.2L472.9,240.3L470.6,237.9L470.2,235.9M470.5,233.8L470.2,233.7M470.2,233.7L470.2,233.5M470.2,233.5L470.5,233.8L470.5,233.8M470.5,233.8L470.5,233.8L470.6,233.9M471.2,234.7L470.6,233.9M470.6,233.9L470.6,234.9M470.6,234.9L471.2,234.7M471.2,234.7L472.4,234.4L474.7,237.9L477.1,240.9L480,243.2L483.5,243.8L487.6,242.6L490,243.2L491.2,245.6L494.1,246.2L498.2,246.8L500.2,247M478.5,215.1L476.8,216.5L474,216L471.5,215.1M474.7,204.3L475.4,202.6L477.5,203.3L480.4,204M478.7,248.9L478.6,248.5L479.1,246.2L478.5,244.2L477.3,244.4L476.8,246.5L476.6,246.1M476.6,246.1L476.5,246.8L477.3,248.9L478.7,248.9M478.5,215.1L480.4,215.1L483.9,214.6L488.2,215.3L491.7,216.8L494.5,218.9L498.1,220.3M480,250.3L478.8,249.1L478.7,248.9M485.1,249.3L484.1,250.3L481.8,250.9L480,250.3M480,250.3L482.4,252.6L485.3,253.8L487.6,255M480.4,204L479.7,201.9L478.5,198.3L479,195.5L481.8,194.4L485.3,195.5L488.9,197.6L492.4,199L494.5,199L496.7,198.3L499.5,200.5L502.3,203.3L505.2,205.4L507.7,206.6L509.4,204.7L511.5,203.7M480.4,204L482.5,203.3L484.6,201.5L487.5,202.3L491,204.7L494.5,206.1L496.7,208.3L499.5,211.1L502.3,212.5L504.5,214.6M484.1,269.7L483.5,266.8L481.8,263.2M487.6,255L488.2,257.9L487.1,260.9L481.8,263.2M484.1,269.7L485.3,269.1L488.2,267.4L491.2,265.6L493.5,263.2L494.7,260.3L496.5,257.9L498,255L496.9,253.7M485.1,249.3L489.8,249.3M489.8,249.3L489.4,246.8L488.2,245L486.5,247.9L485.1,249.3M487.6,255L488.8,252.6L490,250.3M490,250.3L489.8,249.3M494.9,252.1L494.1,251.5L491.2,249.7L490,250.3M496.9,253.7L496.5,253.2L494.9,252.1M494.9,252.1L493.8,255L496.9,253.7M498.1,220.3L496,223.1L496,226.7L497.4,230.9L498.4,235.2L500.9,236.3M504.5,214.6L502.3,216.8L499.5,218.9L498.1,220.3M500.2,247L500.6,247L505.3,247.4L505,246.7L509.3,247.1L513.5,246.7L519.2,248.8L517,251L515,250.6L518.5,253.4L520.7,257.7L525.6,258.4L527.8,260.5L529.2,265.5L531.3,271.8L533.4,277.5L535.5,283.2L537.7,287.4L539.8,290.3L541.9,291.7L544,289.5L545.9,286L546.5,281.8L546.2,277.5L546.5,273.3L549,270.4L552.5,267.6L556.1,264L559.6,260.5L563.2,257.7L565.3,256.3M500.2,247L500.9,246.5L502.3,244.4L504.5,242.3L503,239.4L500.9,236.3M500.9,236.3L505.2,235.9L509.4,234.5L511.5,230.9L514.4,229.5L515.8,226L517.9,223.8L517.2,220.3L519.3,217.5L523.6,215.3M506.6,213.2L504.5,214.6M506.6,213.2L509.4,215.1L512.3,215.3L514.4,213.9L517.2,214.6L520,216L523.6,215.3M512.3,207.1L510.1,208L508,209L508.7,211.1L506.6,213.2M511.5,203.7L513.7,205.4L512.3,207.1M530.7,200L528.5,201.5L525,200.9L520.8,200L517.2,199.8L514.4,201.5L511.5,203.7M512.3,207.1L513.7,208.5L517.2,209L520,208L523.6,206.1M524.1,222.6L525.5,225.5L527.7,228.3L526.3,231.8L524.8,235.4L522,238.2L518.5,241L519.9,243.9L522.7,246L522,248.8L519.9,249.1M524.4,215L524.1,214.8L522,212L520.8,209L523.6,206.1M523.6,206.1L527.8,204.7L530.7,202.3L530.7,200M523.6,215.3L524.4,215M524.4,215L527,217L529.8,218.4L532.6,220.5L535.5,223.3L534.8,226.2L536.2,229L539,231.1L541.8,233.3L545.4,234.7L548.2,236.4M538,184.2L537.8,187L536.3,189.1L533.5,190.5L532.1,193.4L530.7,195.5L529.3,197.6L530.7,200M538,184.2L539.9,184.2L544.8,182L550.5,181.3L556.2,180.6L558.3,177.8L564,179.6M548.2,236.4L548.9,236.8L551,237.5M551,237.5L551.8,237.8L556,239.6L559.5,240.3L559.5,243.2L556,243.2L551.8,241.8L547.5,240.1L543.3,238.2L541.6,235.4L544,234.4L547.5,236.1L548.2,236.4M551,237.5L553.2,238.2L557.4,239.6L561.7,240.1L564.5,238.9L568,237.5L571.6,236.8L575.1,236.1L577.3,237.5L578.7,239.6M564,179.6L570,182.4L578,183.6L586,184L592.4,182.4L598,183.6M564,179.6L559,179L558,182L550,181.6L544,183L540,186L543,187L548,189L551,192.4L556,195L561,197.6L566,200L572,201L577,202L583,203.6L589,202L594,200L595,196L599,194L603,192.4L607,190L600,187L598,183.6M565.3,256.3L563.2,254.1L561.8,250.6L561,247L561.8,244.2L566,245.6L568.1,248.5L569.5,251.3L570.3,254.1M565.3,256.3L568.1,254.8L570.3,254.1M570.3,254.1L571.3,255.7M571.3,255.7L571.7,256.3L573.1,259.1L575.2,261.9L577.3,265.5L578,269.7L580.2,271.6L583,270.4L585.1,268.3L586.5,271.8L587.5,276.1L588.2,280.3L588.7,284.6L589.4,289.5L589.5,289.8M571.3,255.7L570.9,253.1L572.3,251L573.7,248.1L574.1,247.2M578.7,239.6L576.5,241.8L575.1,244.6L574.1,247.2M574.1,247.2L579.4,239.4M579.4,239.4L578.7,239.6M579.4,239.4L579.8,239.3M579.8,239.3L581.4,239.9M581.4,239.9L580.8,238.9L579.8,239.3M581.4,239.9L582.2,241.1M582.2,241.1L582.6,241.8L582.8,242.2M582.8,242.2L582.2,241.1M582.6,247.7L582.2,248.8L584.3,251L587.2,253.8L588.1,254.5M583,243.1L583.3,245L582.5,247.5L582.6,247.7M582.6,247.7L583.6,245.3L583,243.1M582.8,242.2L583,243.1M595.7,253.2L593.5,254.5L590,255.9L588.1,254.5M588.1,254.5L589.2,255.8L590,258.3L588.3,260.4M589.5,289.8L590.1,289.5L589.9,284.6L589.7,280.3L589.1,276.1L588.2,272.1L585.8,269.2L585,266.7L584.6,264.2L585.8,262.1L588.3,260.4M588.3,260.4L590,258.8L590.4,260L591.7,261.7L592.9,263.8L593.3,266.7L595.4,266.2L597.5,265.4L600,266.7L602.5,270L603.8,272.1L604.2,275M589.5,289.8L590.8,292.4L592.9,294.5L593.6,296.6M593.6,296.6L595,296.6L597.2,295.9M593.6,296.6L594.3,299.5L595.8,302.3L597.9,305.1L600.7,308L602.8,309.4L603.5,307.3L602.1,303.7L600.7,300.2L598.6,297.3L597.2,295.9M608.3,275.4L607.5,273.3L605,270L602.5,267.5L600,265L598.3,263.3L600,262.5L601.7,261.7L600,260L597.1,258.3L595.4,256.7L593.8,255L595.7,253.2M595.7,253.2L597.1,252.4L600.6,251.7L604.2,254.5L605.9,256.3M597.2,295.9L595.8,293.8L593.6,291.7L592.2,288.8L591.2,286L590.8,282.5L591.5,278.9L593.6,278.2L594,278L596,279.4L598,280L598.4,280.6M598,183.6L598,176L602,173.6L608,174.4L613,177L619,181L624,184L629,186.4L634,186L637,188L638,193L637,196L635.6,199L636.7,201.3M598.4,280.6L600,283L603,286.6M604.2,275L601.7,275.4L599.2,276.2L597.9,277.9L598.4,280.6M603,286.6L604,290L606,289L610,286L613,283L613.4,278L611,273L608,268L606,264L608,260L605,256L605.9,256.3M603,286.6L603,285L606,284L608.6,281.4L608.8,280L608.3,275.4M604.2,275L605.8,276.2L608.3,275.4M605.9,256.3L610,257.4L610.7,257.3L611.5,258.3L612.1,260.5L613.2,260.5L613.5,258.8L612.9,256.9L615,256.6L621,254L626,250L630,245L631.8,246.9L633.3,242.9L634,239L633.5,235.6L632.3,231.9L630.1,228.5L627.3,225.6L624.5,223.4L623.1,221L625.5,218.6L626.5,216L623.3,214.9L620.2,214.6L617,213.2L615.5,211L618.4,208.2L620.8,206.4L622.6,208.2L624,210.3L626.9,209.2L629,208.2L632.5,204.7L636.1,201.6L636.7,201.3M618,307L618.6,309.4L622,309L626,307L629,304L632,301.4L635,302M635,302L636,305L635,310L634,314L632,318L630,322L627,323L623,321L618,320.6L616,317L614.6,313L614.6,310L618,307M618,307L623,304L627.4,300.6L631,296L634,295L637.4,298.6L635,302M688,319.4L693,321.4L698,325L703,329L700,331L704,335L708.6,339.4L706,340L701,337.4L695,335L691,336L688,336M688,319.4L688,336M688,336L684,334.6L680,332L683,329L679,326L675,325L671,323L668,319L665,317.4L664,315L668,314L673,316L675,318L679,317L684,317.4L688,319.4M731,420.6L732.4,417.4L734.4,414.6L736.4,411L738,407.4L738.6,404L740,402.6L741.6,405L741.2,408.6L744.4,409.8L747.2,411L744.4,414L741,416.6L738,419.4L733.6,421.8L731,420.6M731,420.6L730,423L724,426L718,429L712,433L708,434.6L705.6,434L705.4,432.6L709,429L716,426L722,423L728,419L731,420.6M2.1,254.9L3,254.9L3,255.8L2.1,255.8L2.1,254.9M5.5,256L7,256.4L9.3,258.1L9,258.9L6.8,257.3L5.5,256M9.2,260.8L10.8,260.3L12,261.8L11.2,263.3L9.4,263.5L9.2,260.8M47.6,146.4L54,142L60,138L63,141L67,143L64,145L58,147L54,145.6L50,146.4L47.6,146.4M55,157.2L59,156.8L59.2,158.6L55.6,158.8L55,157.2M68,132L72.4,131.2L72.8,132.8L69,133.4L68,132M71,164.4L76,162.4L77,164L72.4,165.8L71,164.4M103.6,172.4L106,172L106.8,175L105,177L103.6,175L103.6,172.4M159.3,130.5L163.5,128.3L167.8,126.6L173.4,125.8L179.1,126.9L180.5,129L186.2,129.5L191.8,128.3L196.1,127.6L194.7,130.5L193.3,134L195.4,135.4L191.8,137.1L186.2,137.1L180.5,138L174.8,137.1L169.2,137.1L168.5,134.7L170.6,133.3L165.6,131.9L162.1,132.3L159.3,130.5M172,253.6L176,252L181,252.4L186,254.4L190,256.4L194,258.4L193,260L188,259.6L184,258L180,256.4L176,255.6L172.4,255.6L172,253.6M175.5,122L181.9,120.1L189,119.1L188.3,121L184,122L177.7,123L175.5,122M181.2,123.4L187.6,122.7L193.3,121.5L197.5,121.3L200.3,122.7L197.5,124.4L190.4,125.2L184.8,125.2L181.2,123.4M185.6,264.4L189,264.4L189.4,266L186,266L185.6,264.4M187,243L189,242.4L189.6,245L188,245.6L187,243M188,248.4L189.6,248L190,250.4L188.4,250.4L188,248.4M194,118.4L201,117L201.8,118.1L196.1,119.6L194,118.4M197,261.6L202,260.4L207,262L208,264.4L204,265.6L199,265L197,263.6L197,261.6M198.8,129.6L202.5,127.7L206.7,127.1L208.8,127.9L207.5,129.6L205.4,131.2L202.5,132.5L200.4,131.7L198.8,129.6M205.3,122.4L211.7,121.3L213.8,122.7L211.7,124.4L206.7,124.4L205.3,122.4M208.3,149.2L214.2,145L217.5,147.5L220,149.2L216.7,149.6L212.5,150.4L210,150L208.3,149.2M208.8,116.7L215.2,116.7L215.9,118.1L210.3,118.4L208.8,116.7M209.2,129.2L212.5,127.1L216.7,126.2L219.2,127.1L216.7,128.3L213.3,129.8L210.4,130.8L209.2,129.2M210.4,264.4L213.6,264.4L213.6,266L210.4,266L210.4,264.4M217.3,117.7L221.6,117.3L222.3,119.1L218,119.6L217.3,117.7M219.5,122.7L223,121.5L228.7,122.7L234.3,123L239.3,123.4L238.6,125.2L232.9,125.8L225.8,125.5L220.9,125.2L219.5,122.7M224.4,114.2L230.1,113L235.8,112.8L240,111.6L247.1,110.6L254.2,110.2L262.7,109.9L271.2,109.6L275,110.2L271.2,112L265.5,113.5L259.8,114.2L254.2,115.6L251.3,117.7L247.1,119.8L242.8,121.3L238.6,122.4L232.9,122L228.7,121.3L227.3,119.1L231.5,118.1L225.8,117L224.4,114.2M234,183.5L237,183L239,184L236,184.5L234,183.5M242.5,188.5L245,186.2L247.5,183L249,180.5L250.5,181.5L251.5,184L255,185L256.2,187.5L255.5,190L254,191.5L252.2,190L250,190.5L248,189.2L245,189L242.5,188.5M320.8,145L323.3,143.3L328.3,143.7L333.3,143L337.5,143.3L339.2,145L337.5,147.5L333.3,148.7L328.3,149.7L324.2,149.2L321.7,147.5L320.8,145M353.2,161.1L356,161L357.4,161.4L356.5,162.5L355.5,163.5L356.5,163.9L358.1,163.5L359.1,163.9L358.8,165.1L358.1,166.5L357.4,167.5L358.6,168.2L359.8,169.1L360.7,170.3L361.6,171.5L362.6,172.6L363.3,174.3L364.9,175.2L366.1,176.4L365.6,178.1L365.4,179.5L363.5,179.9L361.2,180.4L358.8,180.6L356.5,181.4L354.1,181.8L352.2,182.8L351.3,183L352.5,181.6L354.1,180.4L355.5,179.5L354.4,179L353.4,178.3L354.1,177.4L353.6,176.4L354.1,175.2L355.1,174.3L356.5,174.1L356.7,172.9L356,171.9L354.6,171.2L353.4,170.1L352.7,168.9L352,167.7L351.3,166.3L351.2,164.9L351.8,163.2L352.5,162.1L353.2,161.1M378,115.5L381.5,114.8L385,115L388,114.2L391.5,113.5L396,113.2L400,113.8L402,114.8L401.5,115.8L398,116L395,116.5L393.5,116L392,116.5L390.5,118.5L389,120.5L387.5,121.5L385,120.5L382.5,119L380,117.5L378.5,116.5L378,115.5M380.5,206.5L382,205.5L383.5,206L383.8,209L383,211L381.2,211.2L380.5,209L380.5,206.5M381,201L382.2,200L382.8,202L382.5,204.5L381.2,204.5L381,201M383,168L385,167.5L386,169L384.5,170L383,168M389.5,214L392,213.2L394.5,213.5L396,213.8L395.5,216L394,217L391.5,215.5L389.8,215L389.5,214M394,118.5L397,118L399.5,118.5L399,119.5L395,119.5L394,118.5M414.5,220L416.5,219.8L419.5,220.5L419,221.2L416,221L414.5,220M422.6,390L425.4,387.6L428,389.6L425,392.4L422.6,390M427,113.6L432,113L436,114L432,115.2L427,113.6M431.4,381L434,379.6L435.4,382L433,384L431.4,381M433.5,221L435,220L437.5,219.5L437,220.8L435,221.8L433.5,221M447,132L448,127L452,124L458,122L464,120.4L467.6,121L463,123L458,124.4L454,127L452.4,130L454,133L451,133.6L447,132M493,114L498,113L504,114.4L509,116L506,117L500,116.4L495,115.6L493,114M510,117L515,116.4L518,118L513,118.8L510,117M563.8,242.5L562.4,240.1L565.2,239.2L568,240.1L567.3,242L563.8,242.5M574,123L580,122L587,123.6L583,125L577,124.4L574,123M582.3,299.5L585.1,298.5L588.7,300.9L592.2,304.4L595.8,308.7L599.3,313.6L600,312L604,317L607,322L608,327L605,328.6L601,325L597,320L593,315L589,310L589.4,310.1L585.8,305.1L583,300.9L582.3,299.5M589,124L596,124.4L594,125.6L590,125L589,124M606,328.6L611,329L617,330.6L623,332L628.6,333.4L628,335.4L622,335L615,334L609,332.6L605.4,330.6L606,328.6M609.6,262.1L611.2,260.8L613.3,260.8L614.8,261.5L614.2,263.3L612.9,264.6L610.8,265L609.6,263.8L609.6,262.1M614,401L616,397L618,391L617,386L616.4,381L619,374L620,371L626,367L633,365L638,363L642,357L648,352L653,349L658,351L660,347L665,343L668,342.6L673,344L676.4,344.6L675,349L673.6,352L677,355L682,359L685,356L687,349L689,342L690.4,341L692,346L693.6,351L695,356L696,360L699,364L701,369L703,373L705,378L705.6,383L704,389L701,394L698,398L694,403L690,407L687,410.6L682,412L677,413.4L674,414.6L670,413L666,412L664.4,408L665,404L664,400L660,404L658,402L657,398L653,396L648,395L642,396.6L637,398L633,400.6L628,402L622,403L618,404.6L615,404L614,401M631.4,335L635,334.2L637.4,335L635,336.6L631.4,335M632,290.6L637,284L638,285L634,291L632,290.6M633.4,251.5L634,248.5L635.3,246.8L636.7,247.3L636.9,250L636.6,253L635.8,255.5L635.2,255.2L634.2,253.5L633.4,251.5M634.7,215.7L636.1,218.1L637.5,221L638.9,222.8L641.8,222.4L643.9,221L643.2,218.1L641,215.3L638.9,213.2L636.1,212.5L634,213.9L634.7,215.7M636,337.4L640,338L639,339.4L636,337.4M637,265L640,264L642,267L641,272L643,275L642,280L639.4,279.4L638,276L636.6,271L637,265M638.6,312L641,310L646,309.4L652,308.6L651.4,311L647,312L644,314L647,317L645.4,319L643,318L644,323L646,327L644,327.4L642,324L640.6,327L638.6,327.4L637.4,323L638,318L638.6,315L638.6,312M638.6,334.6L643,334L645.4,334.6L643,336L638.6,334.6M639.2,171.8L641.8,173.5L645.3,177L648.8,180.3L651.7,182.7L654.2,184.6L652.8,185.5L654.5,188.4L656.2,190.8L657.3,192.2L655.2,191.2L653.1,188.4L651,184.8L648.1,181.3L645.3,178.5L642.5,175.6L640.1,173.2L639.2,171.8M642,282L646,283L650,282L652,285L649,287.4L645,286.6L642,282M644,292L648,290L652,288L654,291L654.6,295L652,298L649,296L646,295L643.4,294.6L644,292M646,338L650,335L655,334L656,335L652,337.4L648,339.4L646,338M646.7,225.9L648.8,224.5L651,225.2L653.8,225.9L655.2,227.3L653.1,228.8L651.7,231.6L650.3,230.9L648.1,228.8L646.7,225.9M653.4,320.6L657,320L664,320.6L664,322.2L657,322.2L653.4,320.6M655,132L658,132.4L657,133.6L655,132M655.6,194L658,195.5L661.6,197.3L665.1,197.6L667,199L665.1,200.4L663,202.5L660.9,203.5L658.8,203L658,204.4L656.2,202.1L655.9,199.7L657.3,198.3L656.2,196.2L655.6,194M657,308L659,307L660,312L658,314.6L656.6,312L657,308M659.5,205.4L662.3,205L664.4,207.5L665.8,211L665.6,214.6L667.3,217.4L668.4,219.5L666.5,221.7L663.7,222.8L661.6,223.8L658.8,223.1L657.3,224.5L654.5,224.2L651.7,225.2L649.5,224.5L651,222.4L653.8,221L656.6,219.5L657.3,216.7L659.5,215.3L661.3,212.5L660.9,208.9L659.5,205.4M668,420L673,419L677,419.4L675,423L672,426L668,426.6L667,423L668,420M672,327L673.4,326.6L673.4,330L672,330.6L672,327M704.6,327.4L709,326L713,323L715,321L716,323L713,326.6L709,328.6L705.4,329L704.6,327.4M719.4,327.4L722,328.6L721.4,329.8L719,328.6L719.4,327.4M724,331L727,332.6L726.2,333.8L723.6,332.2L724,331M729,334L732,336L731,337.2L728.6,335.4L729,334M733,338L735,339.4L734.2,340.6L732.6,339L733,338M734.4,365.4L736,365L740,370L739,371.4L736,368.6L734.4,365.4M743.6,351.4L745,352L745,356L743.6,355L743.6,351.4M766,358.6L769,357.4L769.6,360L767,360.6L766,358.6"/>
<path fill="none" stroke="#333" stroke-width="0.33" d="M197.6,286.4L199.2,285.6L199.6,288.4L198,289.2L197.6,286.4M440,338L441.4,343L443.4,349L444,354L442,356L440.6,351L439.4,345L439,340L440,338.0"/>
</g>
<!--/MAP-->
<g id="legend">
<rect x="179.5" y="537.5" width="48" height="11" fill="url(#hatch)" stroke="#ccc" stroke-width="1"/>
<rect x="246.5" y="537.5" width="70.8" height="11" fill="#f2f0f7"/>
<rect x="317.3" y="537.5" width="70.8" height="11" fill="#dadaeb"/>
<rect x="388.1" y="537.5" width="70.8" height="11" fill="#bcbddc"/>
<rect x="458.9" y="537.5" width="70.8" height="11" fill="#9e9ac8"/>
<rect x="529.7" y="537.5" width="70.8" height="11" fill="#756bb1"/>
<path d="M600.5,537.5H666L671,543L666,548.5H600.5Z" fill="#54278f"/>
<path d="M246.5,537.5H600.5M246.5,548.5H600.5" stroke="#bbb" stroke-width="1" fill="none"/>
<path d="M246.5,520V548.5M388.1,520V548.5M529.7,520V548.5M317.3,534V548.5M458.9,534V548.5M600.5,534V548.5" stroke="#aaa" stroke-width="1" fill="none"/>
<text class="lg" x="203.5" y="530">No data</text>
<text class="lg" x="246.5" y="515">0 TWh</text>
<text class="lg" x="317.3" y="530">10 TWh</text>
<text class="lg" x="388.1" y="515">30 TWh</text>
<text class="lg" x="458.9" y="530">100 TWh</text>
<text class="lg" x="529.7" y="515">300 TWh</text>
<text class="lg" x="600.5" y="530">1,000 TWh</text>
</g>
</svg>
<div id="src"><b>Data source:</b> Ember (2026); Energy Institute - Statistical Review of World Energy (2025)</div>
<div id="lic">OurWorldinData.org/energy | CC BY</div>
</body></html>
